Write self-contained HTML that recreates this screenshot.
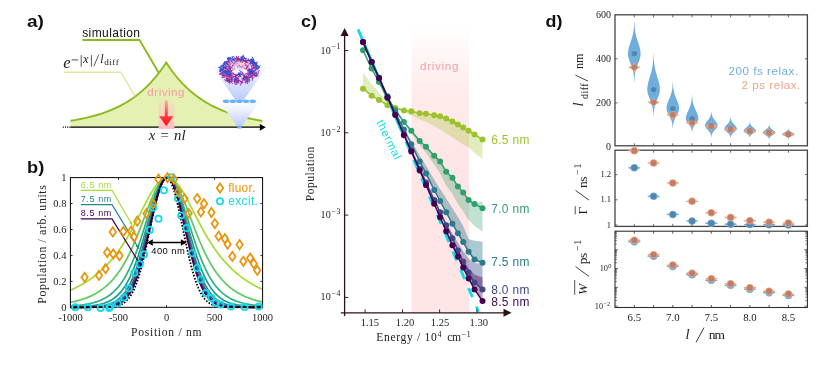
<!DOCTYPE html>
<html><head><meta charset="utf-8"><title>figure</title>
<style>html,body{margin:0;padding:0;background:#fff;}svg{display:block;will-change:transform;}text{white-space:pre;}</style>
</head><body>
<svg width="830" height="367" viewBox="0 0 830 367">
<rect width="830" height="367" fill="#fff"/>
<defs>
<linearGradient id="gPinkA" x1="0" y1="0" x2="0" y2="1"><stop offset="0" stop-color="#ffc6cc" stop-opacity="0"/><stop offset="0.4" stop-color="#ffc6cc" stop-opacity="0.55"/><stop offset="1" stop-color="#ffc2c8" stop-opacity="1"/></linearGradient>
<linearGradient id="gRedA" x1="0" y1="0" x2="0" y2="1"><stop offset="0" stop-color="#ffaaaa"/><stop offset="0.5" stop-color="#ff4848"/><stop offset="1" stop-color="#f81018"/></linearGradient>
<linearGradient id="gPinkC" x1="0" y1="0" x2="0" y2="1"><stop offset="0" stop-color="#ffe5e5" stop-opacity="0"/><stop offset="0.25" stop-color="#ffe5e5" stop-opacity="0.8"/><stop offset="0.5" stop-color="#ffe5e5" stop-opacity="1"/><stop offset="1" stop-color="#ffe5e5" stop-opacity="1"/></linearGradient>
<linearGradient id="gConeUp" x1="0" y1="0" x2="0" y2="1"><stop offset="0" stop-color="#d6dcff" stop-opacity="0.12"/><stop offset="0.5" stop-color="#ccd6ff" stop-opacity="0.75"/><stop offset="1" stop-color="#bccaff" stop-opacity="1"/></linearGradient>
<linearGradient id="gConeLo" x1="0" y1="0" x2="0" y2="1"><stop offset="0" stop-color="#fafbff" stop-opacity="0.7"/><stop offset="0.35" stop-color="#eef1ff" stop-opacity="1"/><stop offset="1" stop-color="#bccaff" stop-opacity="1"/></linearGradient>
</defs>
<g opacity="0.999">
<g id="panelA">
<text x="27" y="27.1" font-family='"Liberation Sans", sans-serif' font-weight="bold" font-size="16" fill="#111" textLength="16.9" lengthAdjust="spacingAndGlyphs">a)</text>
<path d="M70.60 127.30 L70.60 120.75 L72.75 120.41 L74.91 120.04 L77.06 119.66 L79.22 119.25 L81.37 118.83 L83.52 118.38 L85.68 117.90 L87.83 117.41 L89.99 116.88 L92.14 116.33 L94.29 115.75 L96.45 115.13 L98.60 114.49 L100.76 113.81 L102.91 113.10 L105.06 112.34 L107.22 111.55 L109.37 110.72 L111.52 109.84 L113.68 108.91 L115.83 107.94 L117.99 106.91 L120.14 105.83 L122.29 104.69 L124.45 103.49 L126.60 102.23 L128.76 100.90 L130.91 99.50 L133.06 98.03 L135.22 96.47 L137.37 94.84 L139.53 93.12 L141.68 91.31 L143.83 89.40 L145.99 87.39 L148.14 85.28 L150.30 83.05 L152.45 80.70 L154.60 78.23 L156.76 75.63 L158.91 72.89 L161.07 70.01 L163.22 66.97 L165.37 63.77 L166.20 62.50 L167.53 64.53 L169.68 67.69 L171.83 70.69 L173.99 73.54 L176.14 76.25 L178.30 78.82 L180.45 81.26 L182.60 83.58 L184.76 85.78 L186.91 87.87 L189.07 89.85 L191.22 91.74 L193.37 93.53 L195.53 95.23 L197.68 96.84 L199.84 98.38 L201.99 99.83 L204.14 101.21 L206.30 102.53 L208.45 103.77 L210.61 104.96 L212.76 106.08 L214.91 107.15 L217.07 108.17 L219.22 109.13 L221.38 110.04 L223.53 110.91 L225.68 111.74 L227.84 112.52 L229.99 113.27 L232.14 113.97 L234.30 114.64 L236.45 115.28 L238.61 115.88 L240.76 116.46 L242.91 117.01 L245.07 117.52 L247.22 118.02 L249.38 118.48 L251.53 118.93 L253.68 119.35 L255.84 119.75 L257.99 120.13 L260.15 120.49 L262.30 120.83 L262.30 127.30 Z" fill="#e4f1b2"/>
<path d="M70.60 120.75 L72.75 120.41 L74.91 120.04 L77.06 119.66 L79.22 119.25 L81.37 118.83 L83.52 118.38 L85.68 117.90 L87.83 117.41 L89.99 116.88 L92.14 116.33 L94.29 115.75 L96.45 115.13 L98.60 114.49 L100.76 113.81 L102.91 113.10 L105.06 112.34 L107.22 111.55 L109.37 110.72 L111.52 109.84 L113.68 108.91 L115.83 107.94 L117.99 106.91 L120.14 105.83 L122.29 104.69 L124.45 103.49 L126.60 102.23 L128.76 100.90 L130.91 99.50 L133.06 98.03 L135.22 96.47 L137.37 94.84 L139.53 93.12 L141.68 91.31 L143.83 89.40 L145.99 87.39 L148.14 85.28 L150.30 83.05 L152.45 80.70 L154.60 78.23 L156.76 75.63 L158.91 72.89 L161.07 70.01 L163.22 66.97 L165.37 63.77 L166.20 62.50 L167.53 64.53 L169.68 67.69 L171.83 70.69 L173.99 73.54 L176.14 76.25 L178.30 78.82 L180.45 81.26 L182.60 83.58 L184.76 85.78 L186.91 87.87 L189.07 89.85 L191.22 91.74 L193.37 93.53 L195.53 95.23 L197.68 96.84 L199.84 98.38 L201.99 99.83 L204.14 101.21 L206.30 102.53 L208.45 103.77 L210.61 104.96 L212.76 106.08 L214.91 107.15 L217.07 108.17 L219.22 109.13 L221.38 110.04 L223.53 110.91 L225.68 111.74 L227.84 112.52 L229.99 113.27 L232.14 113.97 L234.30 114.64 L236.45 115.28 L238.61 115.88 L240.76 116.46 L242.91 117.01 L245.07 117.52 L247.22 118.02 L249.38 118.48 L251.53 118.93 L253.68 119.35 L255.84 119.75 L257.99 120.13 L260.15 120.49 L262.30 120.83" fill="none" stroke="#8cb81c" stroke-width="1.85" stroke-linejoin="miter"/>
<path d="M82.5 40 L139.5 40 L158.4 72.3" fill="none" stroke="#8cb81c" stroke-width="1.85"/>
<text x="82.2" y="36.8" font-family='"Liberation Sans", sans-serif' font-size="12" fill="#111" textLength="57.8" lengthAdjust="spacing">simulation</text>
<path d="M64 72.3 L121 72.3 L135 96.3" fill="none" stroke="#dcebA4" stroke-width="1.5"/>
<text x="63.3" y="68.2" font-family='"Liberation Serif", serif' font-size="16.5" fill="#222" font-style="italic">e</text>
<line x1="71.6" y1="59.9" x2="78.1" y2="59.9" stroke="#222" stroke-width="0.8"/>
<line x1="81.2" y1="55.1" x2="81.2" y2="66.7" stroke="#222" stroke-width="0.75"/>
<text x="83.0" y="63.3" font-family='"Liberation Serif", serif' font-size="12.5" fill="#222" font-style="italic">x</text>
<line x1="91.4" y1="55.1" x2="91.4" y2="66.7" stroke="#222" stroke-width="0.75"/>
<line x1="93.9" y1="66.2" x2="98.8" y2="54.6" stroke="#222" stroke-width="0.75"/>
<text x="100.2" y="63.3" font-family='"Liberation Serif", serif' font-size="12" fill="#222" font-style="italic">l</text>
<text x="104.2" y="64.8" font-family='"Liberation Serif", serif' font-size="9.2" fill="#222" textLength="14.6" lengthAdjust="spacing">diff</text>
<line x1="70.6" y1="127.2" x2="262" y2="127.2" stroke="#000" stroke-width="1.3"/>
<line x1="62.8" y1="127.2" x2="70.6" y2="127.2" stroke="#000" stroke-width="1.3" stroke-dasharray="1.1 1.1"/>
<path d="M259.8 123.9 L265.8 127.3 L259.8 130.7 Z" fill="#000"/>
<rect x="158.6" y="97.2" width="15.8" height="31.8" fill="url(#gPinkA)"/>
<text x="147.3" y="95.6" font-family='"Liberation Sans", sans-serif' font-size="11.6" fill="#f5a0a5" textLength="37.2" lengthAdjust="spacing">driving</text>
<path d="M164.8 100.5 L167.8 100.5 L167.8 116.2 L173.3 116.2 L166.3 126.2 L159.2 116.2 L164.8 116.2 Z" fill="url(#gRedA)"/>
<text x="148.8" y="140.2" font-family='"Liberation Serif", serif' font-size="14.8" fill="#222" font-style="italic">x</text>
<text x="160.6" y="140.2" font-family='"Liberation Serif", serif' font-size="14.8" fill="#222">=</text>
<text x="174" y="140.2" font-family='"Liberation Serif", serif' font-size="14.8" fill="#222" font-style="italic">nl</text>
<path d="M212 65.9 L267.3 65.9 L243 101.2 L236 101.2 Z" fill="url(#gConeUp)"/>
<path d="M219.3 101.1 L259.5 101.1 L242 126.2 L237 126.2 Z" fill="url(#gConeLo)"/>
<ellipse cx="226.1" cy="101.3" rx="3.3" ry="1.8" fill="#66b3f6"/>
<ellipse cx="232.8" cy="101.3" rx="3.3" ry="1.8" fill="#66b3f6"/>
<ellipse cx="239.4" cy="101.3" rx="3.3" ry="1.8" fill="#66b3f6"/>
<ellipse cx="246.1" cy="101.3" rx="3.3" ry="1.8" fill="#66b3f6"/>
<ellipse cx="252.7" cy="101.3" rx="3.3" ry="1.8" fill="#66b3f6"/>
<rect x="237.4" y="125.7" width="4.3" height="2.9" rx="0.6" fill="#6ab4f8"/>
<ellipse cx="239" cy="66.6" rx="11.5" ry="5" fill="#f4dcee" opacity="0.85"/>
<path d="M237.9 80.4l-0.9 2.6M225.2 76.9l-3.3 0.7M252.8 78.5l-0.4 1.9M231.9 63.4l-3.2 1.5M253.8 65.0l1.9 0.4M255.8 68.0l1.5 1.3M229.0 66.0l-0.4 2.4M252.1 62.7l1.3 1.9M231.5 77.5l1.9 2.2M235.9 81.7l1.1 2.0M235.3 79.9l1.1 1.2M237.0 59.8l-1.1 3.3M241.3 81.2l0.8 1.4M254.3 68.1l-2.3 2.3M232.2 72.6l-2.2 1.6M248.9 80.1l0.2 1.9M230.5 73.7l1.1 2.2M228.0 80.7l1.7 0.4M248.5 70.0l1.6 1.8M250.7 59.4l0.5 2.9M225.2 71.0l1.7 2.2M229.7 68.6l1.3 1.8M226.4 63.4l-0.4 2.2M233.0 60.5l2.4 1.0M235.5 76.5l-2.2 0.2M251.8 72.0l-1.3 1.5M227.9 66.2l-1.3 1.3M249.7 60.3l-1.7 0.1M235.8 80.9l2.2 1.6M236.6 56.6l2.2 2.1M248.9 75.9l1.8 1.1M235.9 76.1l0.3 2.3M246.7 70.6l1.3 1.0M245.8 58.6l-1.6 0.0M255.2 72.9l-2.4 0.3M224.7 79.7l3.4 0.9M222.4 72.2l1.0 1.3M248.8 68.4l1.3 2.3M228.0 61.6l-2.2 0.9M236.5 58.3l1.9 1.1M230.5 76.2l0.4 2.2M234.4 58.7l2.9 1.3M234.3 62.3l-1.4 2.2M223.0 73.8l-0.3 2.4M246.6 73.7l-2.2 1.2M224.4 68.7l-2.2 1.5M238.6 56.4l-1.2 3.1M250.1 68.4l2.8 2.2" stroke="#902090" stroke-width="1" stroke-linecap="round" opacity="0.85" fill="none"/>
<path d="M223.1 65.9l-0.3 1.8M237.1 62.3l-0.5 1.9M245.2 64.7l-1.3 1.2M225.1 65.9l1.8 0.6M253.3 64.1l-1.6 1.6" stroke="#6a2898" stroke-width="1" stroke-linecap="round" opacity="0.55" fill="none"/>
<path d="M227.9 80.1l3.1 1.6M244.0 61.5l-2.2 0.6M232.2 76.2l2.3 0.1M238.8 73.2l0.9 2.2M234.9 74.7l1.3 1.2M237.7 78.8l-1.0 2.5M234.8 82.5l1.1 2.1M225.2 67.2l2.0 1.4M232.0 80.8l1.3 0.5M255.4 73.0l-2.2 2.4M224.0 72.5l-0.2 2.6M244.2 75.0l-0.6 3.5M226.6 75.4l2.9 0.6M232.4 70.1l-1.5 2.2M241.6 59.1l-3.2 0.7M225.0 68.3l1.5 2.8M249.6 69.2l-3.3 0.6M249.9 71.2l2.8 1.3M226.5 68.7l0.3 2.5M245.1 78.0l1.9 0.7M221.9 70.4l-2.1 1.1M249.2 70.8l-0.6 1.4M254.2 71.6l-0.5 3.3M255.7 70.3l-1.7 0.7M251.3 72.7l0.7 3.1M254.8 75.1l1.5 1.7M230.2 68.6l-1.8 1.1M226.8 68.0l0.8 1.7M237.8 76.0l1.3 0.7M243.8 75.4l2.4 2.4M227.0 79.6l-1.9 1.2M237.0 80.4l2.2 1.6M237.8 59.7l0.2 2.2M253.0 73.3l2.0 2.6M223.9 74.9l2.2 0.6M243.5 60.5l3.1 0.1M234.2 80.9l0.7 1.7M249.6 79.3l-2.9 1.3M256.0 73.1l-2.1 0.6M236.2 56.1l1.1 2.3M252.5 62.3l-3.1 1.8M252.6 68.6l-2.8 0.5M246.8 76.3l1.1 1.2M236.8 78.9l-1.6 1.7M236.9 58.0l-1.5 0.6M230.8 65.7l0.2 2.5M230.4 76.2l-2.6 0.3M225.3 73.2l1.0 1.6M251.7 72.4l-0.6 1.9M251.6 70.0l1.5 2.4M248.4 76.2l2.4 0.2M247.9 66.1l-1.8 2.0M228.7 64.1l0.5 2.5" stroke="#8a2890" stroke-width="1" stroke-linecap="round" opacity="0.85" fill="none"/>
<path d="M244.6 63.7l-2.0 1.9M234.5 64.1l-0.2 2.7M243.1 64.8l-2.3 1.1M245.0 60.6l0.4 2.2M232.0 61.9l2.8 0.1M240.2 66.7l-0.5 2.2M236.8 61.9l0.1 1.8M235.0 65.2l-2.3 0.3M226.3 64.6l-2.3 1.1M232.9 66.5l-1.8 0.8M225.5 69.2l1.7 0.4M246.6 65.9l0.4 2.6M233.9 62.0l1.5 1.5" stroke="#e8c0e0" stroke-width="1" stroke-linecap="round" opacity="0.8" fill="none"/>
<path d="M253.4 75.2l-1.6 2.7M227.3 61.1l-1.3 3.2M226.6 77.5l2.1 2.9M247.9 73.6l-1.2 1.8M236.4 81.5l2.6 1.7M251.6 77.0l-2.3 1.3M224.4 61.8l2.4 0.2M230.3 66.9l-0.7 2.0M247.7 67.5l-1.1 1.4M250.1 60.7l1.8 0.4M239.4 58.4l-1.5 2.8M229.3 78.5l-1.4 0.6M228.7 70.2l-2.0 0.9M258.4 68.5l-2.2 0.4M228.6 71.3l-3.5 0.2M254.9 67.8l-2.1 0.6M244.1 79.8l1.7 1.6M223.2 74.3l-3.4 0.0M229.5 80.4l0.4 3.3M243.0 75.5l1.2 1.9M229.8 75.9l-1.1 2.5M226.0 70.4l1.2 2.0M245.6 65.7l0.5 1.5M237.1 57.2l0.7 3.1M236.8 77.6l0.9 1.6M228.3 73.0l1.9 1.1M249.6 64.0l1.4 2.0M223.4 67.8l-0.5 1.4M253.2 67.3l2.7 1.6M249.1 63.9l-2.0 0.2M229.6 69.3l0.8 2.2M229.3 65.1l0.8 1.3M243.5 60.8l3.1 0.7M245.2 77.2l0.0 3.0M256.3 72.9l1.6 1.5M229.4 74.0l-0.3 2.0M227.4 68.9l-0.8 2.2M228.1 75.6l-1.5 0.0M223.0 74.3l1.8 1.7M253.4 71.7l-1.6 1.6M248.4 65.3l-0.4 3.1M252.4 67.0l1.3 0.9M251.8 69.0l-2.7 0.1" stroke="#9a2a9a" stroke-width="1" stroke-linecap="round" opacity="0.85" fill="none"/>
<path d="M222.6 70.8l-0.2 2.3M241.8 60.6l-1.2 0.9M228.8 58.8l-0.9 3.4M234.8 74.3l2.1 1.6M238.3 81.8l-2.5 0.1M248.8 60.5l-2.4 0.3M239.5 60.0l2.0 1.0M249.7 69.6l2.9 1.0M243.5 72.6l2.2 0.3M253.5 66.9l1.9 0.7M239.1 79.7l-2.1 1.7M248.8 70.2l-1.2 1.0M256.0 64.6l0.3 3.6M235.2 73.5l-2.8 0.4M250.6 74.0l-2.4 0.8M222.2 72.3l-0.3 3.2M224.6 71.9l1.7 1.5M234.0 72.0l-0.5 1.7M226.0 75.4l1.9 0.9M247.2 70.3l-0.4 1.5M230.1 79.9l-2.4 1.1M230.6 68.1l-1.0 2.3M244.4 78.1l-2.4 0.6M241.2 82.7l-0.6 2.5M227.4 75.0l-0.6 2.5M226.5 81.2l3.2 0.9M244.6 61.0l2.8 0.0M253.4 62.5l1.9 0.4M223.0 71.0l0.9 2.5M230.7 67.5l2.0 0.5M256.1 73.2l-2.4 1.2M232.9 58.9l1.0 1.1M251.5 71.9l1.2 3.2M252.8 75.2l-1.8 2.2M244.7 75.6l0.9 2.8M228.4 71.2l2.0 2.1M234.0 78.1l3.2 0.7M249.2 73.7l-0.4 1.9M253.4 77.2l-1.2 1.3M236.1 77.6l1.5 1.6M226.9 72.5l-1.8 1.1M252.4 65.0l2.4 2.5M231.8 63.0l-2.6 1.3M230.8 79.2l-3.3 1.0M242.9 60.0l-1.9 0.3M238.0 59.6l3.3 0.2M236.3 81.6l2.0 0.2" stroke="#7a28a0" stroke-width="1" stroke-linecap="round" opacity="0.85" fill="none"/>
<path d="M257.1 63.2l-3.2 1.6M226.2 67.9l-0.4 1.4M234.6 74.4l2.6 0.2M230.4 72.6l-2.7 2.1M254.2 73.2l2.1 0.4M226.6 70.4l-2.0 2.3M240.5 72.4l3.2 1.3M248.3 61.9l0.5 2.0M249.6 61.1l1.9 0.7M247.2 80.8l1.6 0.1M225.3 70.5l1.1 3.3M248.5 73.8l1.1 1.0M230.5 74.0l0.6 2.7M225.6 75.2l-2.0 1.4M241.2 78.6l2.6 2.4M247.4 74.9l1.5 1.0M235.3 78.6l2.9 2.0M240.9 58.7l-1.4 1.5M238.2 81.1l-0.5 1.4M230.9 71.1l-0.3 2.4M250.0 75.7l0.8 1.4M246.5 69.8l0.1 3.0M235.2 75.7l-0.0 1.6M256.1 69.2l-1.8 1.8M242.5 58.1l0.1 1.7M243.7 76.7l-0.2 2.9M240.1 74.2l-1.3 2.8M243.0 77.0l3.1 0.7M242.9 75.1l2.4 0.6M226.3 78.0l1.7 0.6M230.8 77.4l1.7 1.6M255.2 67.0l-0.5 3.3M246.3 58.1l0.7 1.8M259.5 70.2l-1.1 1.7M242.5 80.4l-0.6 3.3M227.3 75.4l2.5 2.2M246.3 70.9l-2.0 1.6M242.8 82.1l-1.9 0.4M251.0 64.8l0.8 1.5M235.9 60.9l-1.3 2.7" stroke="#b838b0" stroke-width="1" stroke-linecap="round" opacity="0.85" fill="none"/>
<path d="M232.0 61.4l-0.4 1.6M247.8 62.8l0.3 2.8M230.1 62.4l1.5 1.8M232.2 65.8l1.0 1.9M249.6 64.3l1.1 0.9M227.2 68.2l-1.8 0.6M238.2 64.6l0.7 2.1M233.2 64.3l-0.9 1.2M250.0 64.4l-0.4 1.7M244.5 62.0l1.4 2.4" stroke="#d8a8d8" stroke-width="1" stroke-linecap="round" opacity="0.8" fill="none"/>
<path d="M243.6 67.8l3.2 0.6M237.2 65.7l0.7 2.1" stroke="#902090" stroke-width="1" stroke-linecap="round" opacity="0.55" fill="none"/>
<path d="M246.6 63.9l3.0 0.4M246.0 62.8l-1.4 0.6M239.0 62.1l-3.2 0.7M233.0 62.5l0.1 1.8M239.2 63.3l-1.6 0.7M231.5 61.9l-0.6 2.3M234.3 65.1l2.1 0.2" stroke="#d8b0e0" stroke-width="1" stroke-linecap="round" opacity="0.8" fill="none"/>
<path d="M222.4 75.6l2.6 0.7M226.7 65.7l1.8 1.1M226.6 61.3l2.6 0.9M238.9 80.3l2.5 1.6M220.5 71.3l2.1 1.5M234.9 73.1l0.5 1.7M228.0 70.2l0.6 2.0M256.2 73.4l-0.4 1.3M239.0 78.0l-2.8 2.0M252.5 67.9l1.7 0.2M220.0 67.7l1.1 1.4M233.5 74.8l-2.2 0.4M245.5 71.2l0.2 2.3M230.4 81.3l2.4 2.3M240.7 81.2l1.4 1.7M233.5 58.3l0.3 1.8M229.6 61.5l-0.1 3.5M237.3 77.3l1.6 1.4M243.0 71.8l-1.1 2.9M244.8 72.9l3.4 0.6M232.1 75.7l-1.8 1.4M230.0 68.4l-1.8 2.7M226.2 72.9l2.5 2.2M257.3 73.7l-0.5 2.4M225.1 61.5l-0.4 2.3M247.7 69.7l-0.9 2.3M257.0 62.7l-1.5 1.6M232.0 72.9l-0.7 2.4M247.7 77.4l1.9 0.2M245.1 71.6l2.7 0.6M230.1 61.1l-0.8 2.6M230.4 71.2l0.2 1.6M250.2 62.6l3.0 1.6M247.5 60.5l-2.5 0.5M244.3 77.5l-1.1 1.0M231.1 79.6l1.4 1.0" stroke="#a828a8" stroke-width="1" stroke-linecap="round" opacity="0.85" fill="none"/>
<path d="M249.9 72.7l2.0 2.1M232.6 79.3l-1.2 2.4M251.2 74.2l2.4 0.3M227.1 76.5l-0.3 2.9M229.9 69.9l1.0 1.9M229.8 70.4l1.8 3.1M253.1 61.7l-1.4 1.6M252.9 70.5l-2.1 2.9M247.8 77.9l-1.8 1.6M252.4 70.6l2.3 0.1M252.4 71.8l-2.4 0.4M251.8 74.2l-2.9 2.2M225.6 65.7l-0.6 2.7M234.0 56.6l1.4 2.6M234.6 83.7l2.3 0.9M237.0 77.8l-2.5 0.6M251.1 66.7l1.7 2.8M248.7 64.8l-1.7 1.6M231.1 60.0l-0.1 3.5M246.4 76.4l2.1 0.0M220.8 70.4l2.8 0.8M246.6 81.5l-2.5 0.9M228.6 75.4l-2.0 1.2M223.7 72.3l-1.2 1.7M220.5 70.7l2.6 0.1M255.3 76.6l-2.6 1.1M229.4 62.1l-2.3 1.4M258.1 75.8l-1.9 0.2M225.6 76.5l-1.4 0.8M229.4 72.8l0.9 1.3M248.6 72.5l1.9 1.2M234.4 73.5l1.3 1.2M250.6 64.9l0.8 1.5M247.2 80.0l2.3 1.1M254.5 71.1l1.3 1.3M234.9 59.0l1.1 1.5M247.3 77.3l-0.3 2.7M231.5 80.7l-0.7 2.0M243.3 74.4l1.1 2.5M230.0 75.9l0.2 2.0M248.3 70.2l1.6 0.5M230.4 73.5l1.8 0.4M234.2 58.7l-2.7 1.8M258.0 70.2l0.5 3.5" stroke="#c048b8" stroke-width="1" stroke-linecap="round" opacity="0.85" fill="none"/>
<path d="M240.4 61.6l-1.8 3.0M243.4 67.3l-2.1 0.4M250.7 63.6l-0.2 2.2M233.3 61.3l2.2 0.1M247.8 64.3l-2.5 0.9M239.8 66.7l2.1 2.0M230.3 64.3l0.8 2.8" stroke="#e0b8e8" stroke-width="1" stroke-linecap="round" opacity="0.8" fill="none"/>
<path d="M231.4 62.9l-2.8 0.5M234.4 63.3l1.1 1.3M236.8 64.7l1.8 1.5M233.3 65.7l1.3 1.0M232.0 64.1l1.0 1.0M245.5 68.6l-1.1 1.2M242.5 64.5l-2.1 2.4M245.8 62.5l-0.8 1.4M249.0 65.0l1.0 1.2" stroke="#f0c8e0" stroke-width="1" stroke-linecap="round" opacity="0.8" fill="none"/>
<path d="M246.7 61.1l-2.0 2.8M238.9 63.9l1.0 2.3M246.4 65.3l1.9 1.9M233.0 69.3l1.6 0.0M233.5 64.8l-1.7 2.1M243.5 67.1l2.2 2.0" stroke="#8a2890" stroke-width="1" stroke-linecap="round" opacity="0.55" fill="none"/>
<path d="M233.0 65.3l1.7 2.7M235.0 65.0l-1.8 1.4M245.2 64.2l1.4 2.5M244.8 62.1l2.5 1.0" stroke="#b838b0" stroke-width="1" stroke-linecap="round" opacity="0.55" fill="none"/>
<path d="M249.8 72.9l3.0 0.3M244.5 76.4l3.0 1.2M221.3 73.0l-1.2 1.2M249.1 74.1l2.2 1.2M249.8 71.4l0.1 1.9M247.3 79.2l-0.5 2.5M227.1 57.9l1.9 2.7M233.8 76.9l-1.7 0.8M234.2 59.5l1.3 2.4M245.7 76.1l-2.2 2.5M247.2 80.5l0.6 3.3M248.2 58.5l0.3 2.0M229.8 66.5l0.1 1.9M257.1 66.9l-0.6 2.5M249.7 60.5l0.8 3.5M250.1 59.8l0.7 2.0M246.8 76.3l1.7 3.2M220.7 68.3l-0.4 3.3M235.6 75.1l0.1 2.6M239.8 76.0l1.4 0.5M245.9 81.1l-0.1 2.2M251.2 70.8l2.5 0.5M230.1 81.4l-1.6 0.8M226.1 78.8l2.6 0.1M250.6 70.0l2.9 1.0M228.7 59.5l0.0 2.6M238.6 73.2l-0.7 1.2M238.3 80.2l3.0 1.4M235.7 80.4l-1.7 0.5M229.5 74.5l-1.5 0.3M226.5 68.3l-3.2 0.3M256.7 75.4l-1.6 0.3M248.7 62.2l-2.6 0.2M255.8 65.8l2.1 1.6M250.3 63.1l1.6 0.3M225.6 67.4l-1.9 0.0M245.8 76.8l1.5 1.1M233.0 65.0l-0.6 1.3M256.8 75.0l-2.2 0.4" stroke="#6a2898" stroke-width="1" stroke-linecap="round" opacity="0.85" fill="none"/>
<path d="M245.0 65.1l2.1 0.2M239.0 65.7l2.9 1.6" stroke="#9a2a9a" stroke-width="1" stroke-linecap="round" opacity="0.55" fill="none"/>
<path d="M234.3 63.1l0.5 1.4" stroke="#7a28a0" stroke-width="1" stroke-linecap="round" opacity="0.55" fill="none"/>
<path d="M243.4 64.4l2.4 2.2M249.1 66.2l-1.6 3.1M232.8 66.7l2.0 2.7M233.5 66.1l-0.3 1.7M234.7 64.4l-0.4 2.7M229.8 63.7l0.3 1.5M246.0 66.5l-2.7 0.8M238.5 64.3l3.5 0.8M248.6 62.0l-1.0 2.5M250.7 68.1l-1.5 2.2M237.8 62.5l1.8 0.4" stroke="#f0d0e8" stroke-width="1" stroke-linecap="round" opacity="0.8" fill="none"/>
<path d="M242.8 65.3l-0.7 1.5M247.7 66.1l-1.7 2.2" stroke="#a828a8" stroke-width="1" stroke-linecap="round" opacity="0.55" fill="none"/>
<path d="M228.0 69.9l-0.6 1.4" stroke="#c048b8" stroke-width="1" stroke-linecap="round" opacity="0.55" fill="none"/>
<path d="M229.6 57.5l2.3 1.3M230.5 57.9l-0.6 2.0M227.9 57.9l2.2 1.7M240.8 57.2l1.9 0.6M243.2 55.2l-0.7 2.2M243.7 56.5l1.2 1.8M241.6 57.8l0.6 2.4M241.8 57.7l-1.9 0.6M251.4 61.5l1.7 0.2M254.1 60.4l-0.6 1.9M250.4 61.0l2.5 1.3M223.2 67.8l-2.3 1.5M219.8 70.0l3.0 0.3M222.0 65.1l-0.1 1.3M258.5 65.9l0.7 1.0M257.3 65.3l-2.0 0.1M228.3 70.4l0.5 2.7M226.7 73.0l0.7 1.9M249.5 69.5l-0.3 1.6M252.1 70.5l1.5 1.1M253.3 72.8l-2.4 1.0M225.9 62.2l-1.3 0.7M225.4 62.9l-1.6 0.4M226.9 62.7l0.9 0.9M254.7 62.8l-1.1 1.3M226.0 73.3l-2.3 1.9M245.2 79.1l-1.9 0.4" stroke="#2040c8" stroke-width="1" stroke-linecap="round" opacity="0.9" fill="none"/>
<path d="M230.0 58.1l0.1 1.6M231.5 58.2l1.1 1.5M233.5 56.5l-1.5 1.0M232.1 56.8l0.5 1.1M244.0 58.1l1.7 1.7M251.8 62.1l1.2 0.8M251.0 59.1l-0.9 1.6M252.7 60.0l-2.5 1.2M223.0 66.9l1.8 1.0M223.3 65.6l-0.2 1.4M258.6 66.1l0.5 1.1M258.8 66.8l-2.7 0.6M260.4 65.5l-2.1 2.1M254.3 67.5l1.5 0.2M227.7 71.5l0.3 2.8M238.2 72.9l0.8 1.9M240.2 74.1l1.5 0.2M250.3 72.7l0.5 2.7M252.5 70.8l-2.4 1.2M250.5 73.4l1.3 0.9M254.5 63.2l1.3 0.1M254.6 62.2l1.0 1.2M252.3 60.9l1.0 2.2M257.8 68.8l-2.3 1.4M257.2 68.8l-1.9 0.9M253.1 70.5l0.7 1.1M256.6 71.9l-0.1 1.4M235.4 78.6l-1.0 1.7M234.5 79.3l1.9 0.3M249.6 78.6l-1.1 1.3M247.1 79.5l0.2 2.6" stroke="#3a68e8" stroke-width="1" stroke-linecap="round" opacity="0.9" fill="none"/>
<path d="M231.3 59.9l1.1 2.7M232.6 56.9l-0.7 1.7M243.8 56.7l0.2 2.1M253.5 59.4l-2.8 0.9M222.4 69.3l-2.6 1.0M220.9 65.4l0.3 2.5M254.5 66.0l2.0 0.9M259.3 67.3l-0.8 1.4M257.1 64.3l-1.1 0.9M226.9 72.8l0.8 1.8M229.3 72.7l-1.2 1.5M231.2 71.2l-2.4 0.4M238.7 73.1l-1.2 2.7M240.8 73.9l1.1 0.9M239.8 70.8l1.7 1.0M239.7 73.9l0.2 1.5M250.9 71.2l-0.7 1.1M226.0 62.7l-2.0 0.4M224.8 64.5l-2.2 0.5M223.3 63.3l1.3 1.4M224.4 64.4l-1.5 1.0M257.1 62.1l-2.5 1.1M255.3 62.6l-1.0 1.3M222.0 72.7l-2.3 0.6M224.1 70.5l1.2 0.2M234.5 80.0l1.3 1.6M231.7 78.7l-0.4 2.8M246.9 80.0l1.1 1.1M248.3 77.5l-2.5 1.4" stroke="#2a50dc" stroke-width="1" stroke-linecap="round" opacity="0.9" fill="none"/>
<path d="M234.1 59.3l-2.8 1.1M230.2 59.3l-2.9 0.5M245.5 59.6l-1.1 0.6M241.7 57.8l-1.6 2.2M243.2 55.7l-1.2 1.5M252.4 58.1l-0.9 1.6M220.2 69.4l1.7 1.4M222.8 69.0l0.7 1.0M219.1 67.7l2.6 0.5M255.5 63.9l2.2 2.0M254.8 66.7l-0.5 1.3M231.5 71.0l-2.2 1.1M225.7 72.2l2.8 0.5M230.1 73.0l-1.8 1.7M239.9 73.7l-2.1 1.3M251.9 71.3l-1.3 0.9M251.7 70.7l-2.0 0.1M223.4 63.2l0.1 2.4M225.1 65.9l-1.8 0.6M224.7 61.8l0.8 2.5M228.3 64.1l-2.0 1.2M253.4 63.2l-0.0 2.6M256.1 64.7l-0.8 1.1M251.9 62.0l2.6 0.3M224.1 69.9l0.0 2.4M255.0 70.9l-0.5 1.7M254.8 70.8l-1.4 1.6M248.1 79.1l2.0 1.1" stroke="#3060e8" stroke-width="1" stroke-linecap="round" opacity="0.9" fill="none"/>
<path d="M228.5 57.3l0.9 1.3M232.8 59.6l1.3 0.7M243.4 59.2l0.5 1.7M241.8 58.7l1.3 1.7M241.7 56.7l1.1 0.6M252.0 59.7l1.8 1.5M253.0 60.0l0.4 1.2M252.5 60.8l0.4 1.8M251.3 59.6l2.5 1.5M252.4 57.1l1.1 2.3M220.7 69.2l-0.9 1.8M223.4 65.7l-0.2 2.1M221.2 66.8l-2.4 0.6M257.6 65.4l-1.1 1.5M258.7 66.9l-0.0 1.3M226.8 71.4l0.0 1.3M226.5 73.5l1.8 1.0M230.5 73.9l-0.6 1.3M230.9 73.4l-1.2 2.5M238.1 72.1l2.1 1.7M238.1 73.8l1.8 0.7M243.4 72.1l-1.1 0.8M239.2 75.0l1.3 1.8M240.1 73.6l-0.0 1.2M237.3 74.6l2.6 0.2M251.2 71.8l2.3 0.9M248.6 70.5l2.6 0.9M249.6 72.2l0.3 1.8M251.0 70.8l-0.5 2.6M224.8 66.5l1.4 0.1M226.9 63.3l0.7 1.5M256.0 63.2l-0.1 1.6M254.0 62.1l-1.2 2.4M254.5 62.4l-2.2 1.5M254.4 65.0l-2.3 0.3M225.7 70.3l-1.3 2.6M225.8 70.4l-2.3 1.3M232.0 77.6l-0.8 2.7M234.7 79.3l1.5 0.4" stroke="#2848d0" stroke-width="1" stroke-linecap="round" opacity="0.9" fill="none"/>
<path d="M253.7 72.2l1.0 0.4M241.6 62.3l1.0 0.4M229.7 63.9l1.0 0.4M249.2 74.6l1.0 0.4M252.8 65.3l1.0 0.4M223.2 73.8l1.0 0.4" stroke="#e04060" stroke-width="1" stroke-linecap="round" opacity="0.9" fill="none"/>
<path d="M239.7 61.4l1.0 0.4M229.0 77.2l1.0 0.4M225.2 70.6l1.0 0.4M244.3 60.8l1.0 0.4M246.9 78.1l1.0 0.4" stroke="#c82848" stroke-width="1" stroke-linecap="round" opacity="0.9" fill="none"/>
<path d="M228.4 76.7l1.0 0.4M226.1 69.9l1.0 0.4M255.0 66.2l1.0 0.4M246.4 79.1l1.0 0.4M226.6 67.5l1.0 0.4" stroke="#d03050" stroke-width="1" stroke-linecap="round" opacity="0.9" fill="none"/>
<ellipse cx="236" cy="72" rx="2.6" ry="2.1" fill="#fff" opacity="0.9"/>
<ellipse cx="245" cy="71.6" rx="2.6" ry="2.1" fill="#fff" opacity="0.9"/>
</g>
<g id="panelB">
<text x="27.1" y="172.6" font-family='"Liberation Sans", sans-serif' font-weight="bold" font-size="16" fill="#111" textLength="17.2" lengthAdjust="spacingAndGlyphs">b)</text>
<clipPath id="clipB"><rect x="70.4" y="171.6" width="192.20000000000002" height="137.70000000000002"/></clipPath>
<g clip-path="url(#clipB)">
<path d="M70.40 290.18 L71.36 289.77 L72.32 289.35 L73.28 288.91 L74.24 288.47 L75.21 288.02 L76.17 287.55 L77.13 287.08 L78.09 286.59 L79.05 286.09 L80.01 285.58 L80.97 285.05 L81.93 284.52 L82.89 283.97 L83.85 283.41 L84.82 282.83 L85.78 282.24 L86.74 281.64 L87.70 281.02 L88.66 280.39 L89.62 279.74 L90.58 279.07 L91.54 278.39 L92.50 277.70 L93.46 276.98 L94.43 276.25 L95.39 275.51 L96.35 274.74 L97.31 273.96 L98.27 273.15 L99.23 272.33 L100.19 271.49 L101.15 270.62 L102.11 269.74 L103.07 268.84 L104.03 267.91 L105.00 266.96 L105.96 265.99 L106.92 265.00 L107.88 263.98 L108.84 262.93 L109.80 261.87 L110.76 260.77 L111.72 259.65 L112.68 258.51 L113.65 257.34 L114.61 256.14 L115.57 254.91 L116.53 253.65 L117.49 252.37 L118.45 251.06 L119.41 249.71 L120.37 248.34 L121.33 246.93 L122.29 245.50 L123.26 244.03 L124.22 242.54 L125.18 241.01 L126.14 239.45 L127.10 237.86 L128.06 236.25 L129.02 234.60 L129.98 232.92 L130.94 231.22 L131.90 229.49 L132.87 227.73 L133.83 225.95 L134.79 224.15 L135.75 222.32 L136.71 220.48 L137.67 218.62 L138.63 216.75 L139.59 214.87 L140.55 212.99 L141.51 211.10 L142.48 209.21 L143.44 207.33 L144.40 205.45 L145.36 203.59 L146.32 201.76 L147.28 199.94 L148.24 198.16 L149.20 196.41 L150.16 194.71 L151.12 193.05 L152.09 191.45 L153.05 189.91 L154.01 188.43 L154.97 187.03 L155.93 185.70 L156.89 184.46 L157.85 183.31 L158.81 182.25 L159.77 181.29 L160.73 180.43 L161.69 179.68 L162.66 179.04 L163.62 178.52 L164.58 178.11 L165.54 177.82 L166.50 177.65 L167.46 177.60 L168.42 177.67 L169.38 177.87 L170.34 178.18 L171.31 178.61 L172.27 179.16 L173.23 179.82 L174.19 180.59 L175.15 181.47 L176.11 182.45 L177.07 183.53 L178.03 184.70 L178.99 185.96 L179.95 187.30 L180.92 188.72 L181.88 190.21 L182.84 191.77 L183.80 193.38 L184.76 195.05 L185.72 196.76 L186.68 198.51 L187.64 200.30 L188.60 202.12 L189.56 203.96 L190.53 205.83 L191.49 207.70 L192.45 209.59 L193.41 211.47 L194.37 213.36 L195.33 215.25 L196.29 217.13 L197.25 219.00 L198.21 220.85 L199.17 222.69 L200.14 224.51 L201.10 226.31 L202.06 228.08 L203.02 229.84 L203.98 231.56 L204.94 233.26 L205.90 234.93 L206.86 236.57 L207.82 238.18 L208.78 239.77 L209.75 241.32 L210.71 242.84 L211.67 244.33 L212.63 245.79 L213.59 247.22 L214.55 248.61 L215.51 249.98 L216.47 251.32 L217.43 252.63 L218.39 253.91 L219.36 255.16 L220.32 256.38 L221.28 257.57 L222.24 258.74 L223.20 259.88 L224.16 260.99 L225.12 262.08 L226.08 263.14 L227.04 264.18 L228.00 265.20 L228.97 266.19 L229.93 267.15 L230.89 268.10 L231.85 269.02 L232.81 269.92 L233.77 270.80 L234.73 271.66 L235.69 272.50 L236.65 273.31 L237.61 274.11 L238.58 274.89 L239.54 275.66 L240.50 276.40 L241.46 277.13 L242.42 277.84 L243.38 278.53 L244.34 279.21 L245.30 279.87 L246.26 280.51 L247.22 281.15 L248.19 281.76 L249.15 282.36 L250.11 282.95 L251.07 283.52 L252.03 284.08 L252.99 284.63 L253.95 285.16 L254.91 285.68 L255.87 286.19 L256.83 286.69 L257.80 287.17 L258.76 287.65 L259.72 288.11 L260.68 288.56 L261.64 289.00 L262.60 289.43" fill="none" stroke="#a5db36" stroke-width="1.7"/>
<path d="M70.40 302.39 L71.36 302.19 L72.32 301.99 L73.28 301.78 L74.24 301.55 L75.21 301.32 L76.17 301.09 L77.13 300.84 L78.09 300.58 L79.05 300.31 L80.01 300.03 L80.97 299.74 L81.93 299.44 L82.89 299.12 L83.85 298.80 L84.82 298.46 L85.78 298.10 L86.74 297.73 L87.70 297.35 L88.66 296.95 L89.62 296.54 L90.58 296.11 L91.54 295.66 L92.50 295.20 L93.46 294.71 L94.43 294.21 L95.39 293.69 L96.35 293.14 L97.31 292.57 L98.27 291.99 L99.23 291.37 L100.19 290.74 L101.15 290.07 L102.11 289.39 L103.07 288.67 L104.03 287.93 L105.00 287.15 L105.96 286.35 L106.92 285.51 L107.88 284.64 L108.84 283.74 L109.80 282.80 L110.76 281.82 L111.72 280.80 L112.68 279.75 L113.65 278.65 L114.61 277.52 L115.57 276.34 L116.53 275.11 L117.49 273.84 L118.45 272.51 L119.41 271.14 L120.37 269.72 L121.33 268.25 L122.29 266.73 L123.26 265.15 L124.22 263.51 L125.18 261.82 L126.14 260.07 L127.10 258.27 L128.06 256.41 L129.02 254.49 L129.98 252.52 L130.94 250.49 L131.90 248.40 L132.87 246.26 L133.83 244.06 L134.79 241.81 L135.75 239.52 L136.71 237.18 L137.67 234.79 L138.63 232.37 L139.59 229.91 L140.55 227.43 L141.51 224.91 L142.48 222.38 L143.44 219.84 L144.40 217.29 L145.36 214.75 L146.32 212.22 L147.28 209.70 L148.24 207.21 L149.20 204.76 L150.16 202.36 L151.12 200.01 L152.09 197.73 L153.05 195.52 L154.01 193.40 L154.97 191.38 L155.93 189.46 L156.89 187.66 L157.85 185.98 L158.81 184.43 L159.77 183.02 L160.73 181.77 L161.69 180.67 L162.66 179.73 L163.62 178.95 L164.58 178.35 L165.54 177.92 L166.50 177.67 L167.46 177.60 L168.42 177.71 L169.38 177.99 L170.34 178.46 L171.31 179.09 L172.27 179.90 L173.23 180.87 L174.19 182.01 L175.15 183.29 L176.11 184.73 L177.07 186.30 L178.03 188.01 L178.99 189.83 L179.95 191.78 L180.92 193.82 L181.88 195.96 L182.84 198.18 L183.80 200.48 L184.76 202.84 L185.72 205.25 L186.68 207.71 L187.64 210.20 L188.60 212.72 L189.56 215.26 L190.53 217.80 L191.49 220.35 L192.45 222.89 L193.41 225.42 L194.37 227.93 L195.33 230.41 L196.29 232.86 L197.25 235.27 L198.21 237.65 L199.17 239.98 L200.14 242.27 L201.10 244.50 L202.06 246.69 L203.02 248.82 L203.98 250.90 L204.94 252.92 L205.90 254.88 L206.86 256.79 L207.82 258.64 L208.78 260.43 L209.75 262.16 L210.71 263.84 L211.67 265.47 L212.63 267.03 L213.59 268.55 L214.55 270.01 L215.51 271.42 L216.47 272.78 L217.43 274.09 L218.39 275.36 L219.36 276.58 L220.32 277.75 L221.28 278.88 L222.24 279.96 L223.20 281.01 L224.16 282.02 L225.12 282.99 L226.08 283.92 L227.04 284.82 L228.00 285.68 L228.97 286.51 L229.93 287.31 L230.89 288.08 L231.85 288.82 L232.81 289.53 L233.77 290.21 L234.73 290.87 L235.69 291.50 L236.65 292.11 L237.61 292.69 L238.58 293.25 L239.54 293.79 L240.50 294.31 L241.46 294.81 L242.42 295.29 L243.38 295.75 L244.34 296.20 L245.30 296.62 L246.26 297.03 L247.22 297.43 L248.19 297.81 L249.15 298.17 L250.11 298.52 L251.07 298.86 L252.03 299.19 L252.99 299.50 L253.95 299.80 L254.91 300.09 L255.87 300.36 L256.83 300.63 L257.80 300.89 L258.76 301.13 L259.72 301.37 L260.68 301.60 L261.64 301.82 L262.60 302.03" fill="none" stroke="#5ec962" stroke-width="1.7"/>
<path d="M70.40 306.16 L71.36 306.09 L72.32 306.02 L73.28 305.95 L74.24 305.86 L75.21 305.78 L76.17 305.69 L77.13 305.59 L78.09 305.49 L79.05 305.38 L80.01 305.26 L80.97 305.14 L81.93 305.01 L82.89 304.88 L83.85 304.73 L84.82 304.58 L85.78 304.42 L86.74 304.24 L87.70 304.06 L88.66 303.87 L89.62 303.66 L90.58 303.44 L91.54 303.21 L92.50 302.97 L93.46 302.71 L94.43 302.43 L95.39 302.14 L96.35 301.83 L97.31 301.51 L98.27 301.16 L99.23 300.79 L100.19 300.40 L101.15 299.99 L102.11 299.55 L103.07 299.09 L104.03 298.60 L105.00 298.08 L105.96 297.53 L106.92 296.95 L107.88 296.33 L108.84 295.68 L109.80 294.99 L110.76 294.26 L111.72 293.48 L112.68 292.66 L113.65 291.80 L114.61 290.88 L115.57 289.92 L116.53 288.89 L117.49 287.82 L118.45 286.68 L119.41 285.48 L120.37 284.22 L121.33 282.88 L122.29 281.48 L123.26 280.01 L124.22 278.46 L125.18 276.83 L126.14 275.13 L127.10 273.34 L128.06 271.48 L129.02 269.53 L129.98 267.49 L130.94 265.37 L131.90 263.16 L132.87 260.87 L133.83 258.49 L134.79 256.03 L135.75 253.49 L136.71 250.86 L137.67 248.17 L138.63 245.40 L139.59 242.57 L140.55 239.68 L141.51 236.73 L142.48 233.74 L143.44 230.71 L144.40 227.65 L145.36 224.57 L146.32 221.48 L147.28 218.40 L148.24 215.33 L149.20 212.29 L150.16 209.29 L151.12 206.35 L152.09 203.48 L153.05 200.69 L154.01 197.99 L154.97 195.41 L155.93 192.95 L156.89 190.64 L157.85 188.47 L158.81 186.48 L159.77 184.66 L160.73 183.03 L161.69 181.60 L162.66 180.37 L163.62 179.36 L164.58 178.58 L165.54 178.02 L166.50 177.69 L167.46 177.60 L168.42 177.74 L169.38 178.11 L170.34 178.72 L171.31 179.55 L172.27 180.60 L173.23 181.87 L174.19 183.34 L175.15 185.01 L176.11 186.86 L177.07 188.89 L178.03 191.09 L178.99 193.43 L179.95 195.92 L180.92 198.52 L181.88 201.24 L182.84 204.05 L183.80 206.93 L184.76 209.89 L185.72 212.90 L186.68 215.94 L187.64 219.02 L188.60 222.10 L189.56 225.19 L190.53 228.26 L191.49 231.32 L192.45 234.34 L193.41 237.32 L194.37 240.26 L195.33 243.14 L196.29 245.96 L197.25 248.71 L198.21 251.40 L199.17 254.00 L200.14 256.53 L201.10 258.97 L202.06 261.33 L203.02 263.61 L203.98 265.80 L204.94 267.90 L205.90 269.92 L206.86 271.86 L207.82 273.71 L208.78 275.48 L209.75 277.17 L210.71 278.78 L211.67 280.31 L212.63 281.77 L213.59 283.16 L214.55 284.47 L215.51 285.72 L216.47 286.91 L217.43 288.04 L218.39 289.10 L219.36 290.11 L220.32 291.07 L221.28 291.97 L222.24 292.83 L223.20 293.64 L224.16 294.41 L225.12 295.13 L226.08 295.81 L227.04 296.46 L228.00 297.07 L228.97 297.64 L229.93 298.19 L230.89 298.70 L231.85 299.19 L232.81 299.64 L233.77 300.07 L234.73 300.48 L235.69 300.87 L236.65 301.23 L237.61 301.57 L238.58 301.90 L239.54 302.20 L240.50 302.49 L241.46 302.76 L242.42 303.02 L243.38 303.26 L244.34 303.49 L245.30 303.70 L246.26 303.91 L247.22 304.10 L248.19 304.28 L249.15 304.45 L250.11 304.61 L251.07 304.76 L252.03 304.91 L252.99 305.04 L253.95 305.17 L254.91 305.29 L255.87 305.40 L256.83 305.51 L257.80 305.61 L258.76 305.71 L259.72 305.80 L260.68 305.88 L261.64 305.96 L262.60 306.04" fill="none" stroke="#2db27d" stroke-width="1.7"/>
<path d="M70.40 307.03 L71.36 307.01 L72.32 306.99 L73.28 306.96 L74.24 306.94 L75.21 306.91 L76.17 306.88 L77.13 306.84 L78.09 306.80 L79.05 306.76 L80.01 306.72 L80.97 306.67 L81.93 306.62 L82.89 306.57 L83.85 306.51 L84.82 306.44 L85.78 306.37 L86.74 306.30 L87.70 306.22 L88.66 306.13 L89.62 306.03 L90.58 305.93 L91.54 305.82 L92.50 305.70 L93.46 305.57 L94.43 305.43 L95.39 305.28 L96.35 305.11 L97.31 304.93 L98.27 304.74 L99.23 304.53 L100.19 304.31 L101.15 304.07 L102.11 303.81 L103.07 303.52 L104.03 303.22 L105.00 302.89 L105.96 302.53 L106.92 302.15 L107.88 301.74 L108.84 301.29 L109.80 300.81 L110.76 300.29 L111.72 299.73 L112.68 299.13 L113.65 298.48 L114.61 297.78 L115.57 297.03 L116.53 296.23 L117.49 295.36 L118.45 294.44 L119.41 293.44 L120.37 292.38 L121.33 291.24 L122.29 290.02 L123.26 288.73 L124.22 287.34 L125.18 285.87 L126.14 284.31 L127.10 282.65 L128.06 280.89 L129.02 279.03 L129.98 277.06 L130.94 274.99 L131.90 272.81 L132.87 270.52 L133.83 268.12 L134.79 265.61 L135.75 262.99 L136.71 260.27 L137.67 257.44 L138.63 254.52 L139.59 251.50 L140.55 248.39 L141.51 245.20 L142.48 241.94 L143.44 238.62 L144.40 235.24 L145.36 231.82 L146.32 228.37 L147.28 224.90 L148.24 221.43 L149.20 217.98 L150.16 214.56 L151.12 211.19 L152.09 207.88 L153.05 204.66 L154.01 201.54 L154.97 198.54 L155.93 195.67 L156.89 192.97 L157.85 190.43 L158.81 188.09 L159.77 185.94 L160.73 184.02 L161.69 182.33 L162.66 180.88 L163.62 179.69 L164.58 178.76 L165.54 178.10 L166.50 177.71 L167.46 177.60 L168.42 177.77 L169.38 178.21 L170.34 178.93 L171.31 179.91 L172.27 181.15 L173.23 182.65 L174.19 184.39 L175.15 186.36 L176.11 188.54 L177.07 190.92 L178.03 193.50 L178.99 196.24 L179.95 199.13 L180.92 202.15 L181.88 205.30 L182.84 208.54 L183.80 211.86 L184.76 215.24 L185.72 218.67 L186.68 222.13 L187.64 225.59 L188.60 229.06 L189.56 232.50 L190.53 235.92 L191.49 239.29 L192.45 242.60 L193.41 245.85 L194.37 249.02 L195.33 252.11 L196.29 255.11 L197.25 258.02 L198.21 260.82 L199.17 263.52 L200.14 266.12 L201.10 268.61 L202.06 270.98 L203.02 273.25 L203.98 275.41 L204.94 277.46 L205.90 279.41 L206.86 281.25 L207.82 282.99 L208.78 284.63 L209.75 286.17 L210.71 287.63 L211.67 288.99 L212.63 290.27 L213.59 291.47 L214.55 292.60 L215.51 293.65 L216.47 294.63 L217.43 295.54 L218.39 296.39 L219.36 297.19 L220.32 297.93 L221.28 298.61 L222.24 299.25 L223.20 299.84 L224.16 300.40 L225.12 300.91 L226.08 301.38 L227.04 301.82 L228.00 302.23 L228.97 302.61 L229.93 302.96 L230.89 303.28 L231.85 303.58 L232.81 303.86 L233.77 304.12 L234.73 304.36 L235.69 304.58 L236.65 304.78 L237.61 304.97 L238.58 305.15 L239.54 305.31 L240.50 305.46 L241.46 305.59 L242.42 305.72 L243.38 305.84 L244.34 305.95 L245.30 306.05 L246.26 306.15 L247.22 306.23 L248.19 306.31 L249.15 306.39 L250.11 306.46 L251.07 306.52 L252.03 306.58 L252.99 306.63 L253.95 306.68 L254.91 306.73 L255.87 306.77 L256.83 306.81 L257.80 306.85 L258.76 306.88 L259.72 306.91 L260.68 306.94 L261.64 306.97 L262.60 306.99" fill="none" stroke="#1f9a8a" stroke-width="1.7"/>
<path d="M70.40 307.25 L71.36 307.24 L72.32 307.24 L73.28 307.23 L74.24 307.22 L75.21 307.21 L76.17 307.20 L77.13 307.19 L78.09 307.18 L79.05 307.17 L80.01 307.15 L80.97 307.14 L81.93 307.12 L82.89 307.10 L83.85 307.08 L84.82 307.06 L85.78 307.03 L86.74 307.00 L87.70 306.97 L88.66 306.93 L89.62 306.89 L90.58 306.85 L91.54 306.80 L92.50 306.75 L93.46 306.69 L94.43 306.62 L95.39 306.55 L96.35 306.47 L97.31 306.38 L98.27 306.28 L99.23 306.17 L100.19 306.05 L101.15 305.92 L102.11 305.78 L103.07 305.61 L104.03 305.44 L105.00 305.24 L105.96 305.02 L106.92 304.78 L107.88 304.52 L108.84 304.23 L109.80 303.91 L110.76 303.55 L111.72 303.17 L112.68 302.74 L113.65 302.27 L114.61 301.76 L115.57 301.20 L116.53 300.59 L117.49 299.92 L118.45 299.19 L119.41 298.39 L120.37 297.53 L121.33 296.59 L122.29 295.56 L123.26 294.46 L124.22 293.26 L125.18 291.97 L126.14 290.58 L127.10 289.08 L128.06 287.47 L129.02 285.75 L129.98 283.91 L130.94 281.95 L131.90 279.86 L132.87 277.65 L133.83 275.30 L134.79 272.83 L135.75 270.22 L136.71 267.49 L137.67 264.63 L138.63 261.64 L139.59 258.53 L140.55 255.31 L141.51 251.98 L142.48 248.55 L143.44 245.03 L144.40 241.43 L145.36 237.76 L146.32 234.05 L147.28 230.30 L148.24 226.53 L149.20 222.76 L150.16 219.00 L151.12 215.29 L152.09 211.63 L153.05 208.06 L154.01 204.58 L154.97 201.23 L155.93 198.02 L156.89 194.98 L157.85 192.13 L158.81 189.49 L159.77 187.07 L160.73 184.89 L161.69 182.97 L162.66 181.33 L163.62 179.98 L164.58 178.92 L165.54 178.17 L166.50 177.73 L167.46 177.60 L168.42 177.79 L169.38 178.29 L170.34 179.11 L171.31 180.23 L172.27 181.64 L173.23 183.34 L174.19 185.31 L175.15 187.53 L176.11 190.00 L177.07 192.69 L178.03 195.58 L178.99 198.65 L179.95 201.89 L180.92 205.27 L181.88 208.77 L182.84 212.36 L183.80 216.03 L184.76 219.75 L185.72 223.51 L186.68 227.28 L187.64 231.05 L188.60 234.80 L189.56 238.50 L190.53 242.15 L191.49 245.74 L192.45 249.24 L193.41 252.65 L194.37 255.96 L195.33 259.16 L196.29 262.25 L197.25 265.21 L198.21 268.05 L199.17 270.76 L200.14 273.33 L201.10 275.78 L202.06 278.10 L203.02 280.29 L203.98 282.35 L204.94 284.29 L205.90 286.10 L206.86 287.80 L207.82 289.39 L208.78 290.86 L209.75 292.24 L210.71 293.51 L211.67 294.69 L212.63 295.78 L213.59 296.78 L214.55 297.71 L215.51 298.56 L216.47 299.34 L217.43 300.06 L218.39 300.72 L219.36 301.32 L220.32 301.87 L221.28 302.37 L222.24 302.83 L223.20 303.25 L224.16 303.63 L225.12 303.97 L226.08 304.29 L227.04 304.57 L228.00 304.83 L228.97 305.07 L229.93 305.28 L230.89 305.47 L231.85 305.65 L232.81 305.81 L233.77 305.95 L234.73 306.08 L235.69 306.20 L236.65 306.30 L237.61 306.40 L238.58 306.49 L239.54 306.57 L240.50 306.64 L241.46 306.70 L242.42 306.76 L243.38 306.81 L244.34 306.86 L245.30 306.90 L246.26 306.94 L247.22 306.97 L248.19 307.01 L249.15 307.03 L250.11 307.06 L251.07 307.08 L252.03 307.10 L252.99 307.12 L253.95 307.14 L254.91 307.16 L255.87 307.17 L256.83 307.18 L257.80 307.19 L258.76 307.20 L259.72 307.21 L260.68 307.22 L261.64 307.23 L262.60 307.24" fill="none" stroke="#25838e" stroke-width="1.7"/>
<path d="M70.40 307.29 L71.36 307.29 L72.32 307.28 L73.28 307.28 L74.24 307.28 L75.21 307.28 L76.17 307.27 L77.13 307.27 L78.09 307.27 L79.05 307.26 L80.01 307.26 L80.97 307.25 L81.93 307.24 L82.89 307.23 L83.85 307.23 L84.82 307.22 L85.78 307.21 L86.74 307.19 L87.70 307.18 L88.66 307.16 L89.62 307.14 L90.58 307.12 L91.54 307.10 L92.50 307.07 L93.46 307.04 L94.43 307.01 L95.39 306.97 L96.35 306.93 L97.31 306.88 L98.27 306.82 L99.23 306.76 L100.19 306.69 L101.15 306.61 L102.11 306.52 L103.07 306.42 L104.03 306.30 L105.00 306.18 L105.96 306.03 L106.92 305.87 L107.88 305.69 L108.84 305.49 L109.80 305.26 L110.76 305.00 L111.72 304.72 L112.68 304.40 L113.65 304.04 L114.61 303.65 L115.57 303.21 L116.53 302.72 L117.49 302.18 L118.45 301.58 L119.41 300.91 L120.37 300.19 L121.33 299.38 L122.29 298.50 L123.26 297.53 L124.22 296.48 L125.18 295.32 L126.14 294.07 L127.10 292.70 L128.06 291.22 L129.02 289.62 L129.98 287.89 L130.94 286.04 L131.90 284.05 L132.87 281.92 L133.83 279.65 L134.79 277.23 L135.75 274.67 L136.71 271.97 L137.67 269.12 L138.63 266.12 L139.59 262.99 L140.55 259.73 L141.51 256.33 L142.48 252.82 L143.44 249.20 L144.40 245.49 L145.36 241.69 L146.32 237.82 L147.28 233.89 L148.24 229.94 L149.20 225.97 L150.16 222.01 L151.12 218.07 L152.09 214.19 L153.05 210.38 L154.01 206.67 L154.97 203.08 L155.93 199.64 L156.89 196.38 L157.85 193.31 L158.81 190.46 L159.77 187.85 L160.73 185.50 L161.69 183.42 L162.66 181.65 L163.62 180.18 L164.58 179.03 L165.54 178.22 L166.50 177.74 L167.46 177.60 L168.42 177.81 L169.38 178.35 L170.34 179.24 L171.31 180.45 L172.27 181.98 L173.23 183.82 L174.19 185.94 L175.15 188.35 L176.11 191.01 L177.07 193.91 L178.03 197.02 L178.99 200.32 L179.95 203.79 L180.92 207.40 L181.88 211.13 L182.84 214.96 L183.80 218.85 L184.76 222.80 L185.72 226.76 L186.68 230.73 L187.64 234.68 L188.60 238.60 L189.56 242.45 L190.53 246.24 L191.49 249.94 L192.45 253.53 L193.41 257.02 L194.37 260.39 L195.33 263.63 L196.29 266.73 L197.25 269.70 L198.21 272.52 L199.17 275.20 L200.14 277.73 L201.10 280.11 L202.06 282.35 L203.02 284.46 L203.98 286.42 L204.94 288.25 L205.90 289.95 L206.86 291.52 L207.82 292.98 L208.78 294.32 L209.75 295.56 L210.71 296.70 L211.67 297.73 L212.63 298.68 L213.59 299.55 L214.55 300.34 L215.51 301.05 L216.47 301.70 L217.43 302.29 L218.39 302.82 L219.36 303.30 L220.32 303.73 L221.28 304.12 L222.24 304.46 L223.20 304.78 L224.16 305.05 L225.12 305.30 L226.08 305.53 L227.04 305.73 L228.00 305.90 L228.97 306.06 L229.93 306.20 L230.89 306.33 L231.85 306.44 L232.81 306.54 L233.77 306.63 L234.73 306.70 L235.69 306.77 L236.65 306.83 L237.61 306.89 L238.58 306.94 L239.54 306.98 L240.50 307.02 L241.46 307.05 L242.42 307.08 L243.38 307.10 L244.34 307.13 L245.30 307.15 L246.26 307.17 L247.22 307.18 L248.19 307.20 L249.15 307.21 L250.11 307.22 L251.07 307.23 L252.03 307.24 L252.99 307.24 L253.95 307.25 L254.91 307.26 L255.87 307.26 L256.83 307.27 L257.80 307.27 L258.76 307.27 L259.72 307.28 L260.68 307.28 L261.64 307.28 L262.60 307.28" fill="none" stroke="#2e6c8e" stroke-width="1.7"/>
<path d="M70.40 307.30 L71.36 307.30 L72.32 307.29 L73.28 307.29 L74.24 307.29 L75.21 307.29 L76.17 307.29 L77.13 307.29 L78.09 307.29 L79.05 307.29 L80.01 307.28 L80.97 307.28 L81.93 307.28 L82.89 307.27 L83.85 307.27 L84.82 307.27 L85.78 307.26 L86.74 307.25 L87.70 307.25 L88.66 307.24 L89.62 307.23 L90.58 307.22 L91.54 307.21 L92.50 307.19 L93.46 307.17 L94.43 307.15 L95.39 307.13 L96.35 307.11 L97.31 307.08 L98.27 307.04 L99.23 307.00 L100.19 306.95 L101.15 306.90 L102.11 306.84 L103.07 306.77 L104.03 306.69 L105.00 306.60 L105.96 306.50 L106.92 306.38 L107.88 306.25 L108.84 306.09 L109.80 305.92 L110.76 305.72 L111.72 305.50 L112.68 305.24 L113.65 304.96 L114.61 304.63 L115.57 304.27 L116.53 303.86 L117.49 303.41 L118.45 302.89 L119.41 302.32 L120.37 301.69 L121.33 300.98 L122.29 300.20 L123.26 299.33 L124.22 298.37 L125.18 297.32 L126.14 296.16 L127.10 294.90 L128.06 293.51 L129.02 292.01 L129.98 290.37 L130.94 288.61 L131.90 286.70 L132.87 284.64 L133.83 282.44 L134.79 280.08 L135.75 277.57 L136.71 274.90 L137.67 272.08 L138.63 269.10 L139.59 265.97 L140.55 262.69 L141.51 259.28 L142.48 255.72 L143.44 252.05 L144.40 248.27 L145.36 244.38 L146.32 240.42 L147.28 236.39 L148.24 232.31 L149.20 228.21 L150.16 224.11 L151.12 220.03 L152.09 215.99 L153.05 212.02 L154.01 208.15 L154.97 204.40 L155.93 200.80 L156.89 197.37 L157.85 194.15 L158.81 191.15 L159.77 188.41 L160.73 185.93 L161.69 183.75 L162.66 181.87 L163.62 180.32 L164.58 179.11 L165.54 178.25 L166.50 177.75 L167.46 177.60 L168.42 177.82 L169.38 178.40 L170.34 179.33 L171.31 180.61 L172.27 182.22 L173.23 184.16 L174.19 186.40 L175.15 188.94 L176.11 191.73 L177.07 194.78 L178.03 198.04 L178.99 201.51 L179.95 205.14 L180.92 208.91 L181.88 212.81 L182.84 216.79 L183.80 220.84 L184.76 224.93 L185.72 229.04 L186.68 233.13 L187.64 237.20 L188.60 241.22 L189.56 245.17 L190.53 249.03 L191.49 252.80 L192.45 256.45 L193.41 259.97 L194.37 263.36 L195.33 266.61 L196.29 269.71 L197.25 272.65 L198.21 275.45 L199.17 278.08 L200.14 280.56 L201.10 282.89 L202.06 285.06 L203.02 287.09 L203.98 288.97 L204.94 290.71 L205.90 292.32 L206.86 293.80 L207.82 295.16 L208.78 296.40 L209.75 297.54 L210.71 298.57 L211.67 299.51 L212.63 300.36 L213.59 301.13 L214.55 301.82 L215.51 302.44 L216.47 303.00 L217.43 303.50 L218.39 303.95 L219.36 304.35 L220.32 304.70 L221.28 305.02 L222.24 305.30 L223.20 305.54 L224.16 305.76 L225.12 305.96 L226.08 306.13 L227.04 306.27 L228.00 306.41 L228.97 306.52 L229.93 306.62 L230.89 306.71 L231.85 306.79 L232.81 306.85 L233.77 306.91 L234.73 306.96 L235.69 307.01 L236.65 307.05 L237.61 307.08 L238.58 307.11 L239.54 307.14 L240.50 307.16 L241.46 307.18 L242.42 307.19 L243.38 307.21 L244.34 307.22 L245.30 307.23 L246.26 307.24 L247.22 307.25 L248.19 307.26 L249.15 307.26 L250.11 307.27 L251.07 307.27 L252.03 307.28 L252.99 307.28 L253.95 307.28 L254.91 307.28 L255.87 307.29 L256.83 307.29 L257.80 307.29 L258.76 307.29 L259.72 307.29 L260.68 307.29 L261.64 307.29 L262.60 307.30" fill="none" stroke="#3b528b" stroke-width="1.7"/>
<path d="M70.40 307.30 L71.36 307.30 L72.32 307.30 L73.28 307.30 L74.24 307.30 L75.21 307.30 L76.17 307.30 L77.13 307.30 L78.09 307.29 L79.05 307.29 L80.01 307.29 L80.97 307.29 L81.93 307.29 L82.89 307.29 L83.85 307.29 L84.82 307.28 L85.78 307.28 L86.74 307.28 L87.70 307.27 L88.66 307.27 L89.62 307.26 L90.58 307.25 L91.54 307.25 L92.50 307.24 L93.46 307.23 L94.43 307.21 L95.39 307.20 L96.35 307.18 L97.31 307.16 L98.27 307.13 L99.23 307.11 L100.19 307.07 L101.15 307.03 L102.11 306.99 L103.07 306.94 L104.03 306.88 L105.00 306.81 L105.96 306.73 L106.92 306.63 L107.88 306.52 L108.84 306.40 L109.80 306.26 L110.76 306.09 L111.72 305.90 L112.68 305.69 L113.65 305.45 L114.61 305.17 L115.57 304.85 L116.53 304.49 L117.49 304.09 L118.45 303.63 L119.41 303.12 L120.37 302.54 L121.33 301.90 L122.29 301.18 L123.26 300.38 L124.22 299.49 L125.18 298.51 L126.14 297.42 L127.10 296.22 L128.06 294.91 L129.02 293.47 L129.98 291.91 L130.94 290.20 L131.90 288.35 L132.87 286.35 L133.83 284.20 L134.79 281.89 L135.75 279.42 L136.71 276.79 L137.67 273.99 L138.63 271.03 L139.59 267.91 L140.55 264.63 L141.51 261.21 L142.48 257.64 L143.44 253.94 L144.40 250.11 L145.36 246.18 L146.32 242.16 L147.28 238.06 L148.24 233.91 L149.20 229.73 L150.16 225.53 L151.12 221.35 L152.09 217.21 L153.05 213.14 L154.01 209.16 L154.97 205.30 L155.93 201.59 L156.89 198.06 L157.85 194.73 L158.81 191.63 L159.77 188.79 L160.73 186.23 L161.69 183.97 L162.66 182.03 L163.62 180.42 L164.58 179.17 L165.54 178.28 L166.50 177.75 L167.46 177.60 L168.42 177.83 L169.38 178.43 L170.34 179.39 L171.31 180.72 L172.27 182.39 L173.23 184.40 L174.19 186.72 L175.15 189.34 L176.11 192.23 L177.07 195.38 L178.03 198.75 L178.99 202.32 L179.95 206.06 L180.92 209.94 L181.88 213.95 L182.84 218.04 L183.80 222.19 L184.76 226.37 L185.72 230.57 L186.68 234.75 L187.64 238.89 L188.60 242.97 L189.56 246.98 L190.53 250.89 L191.49 254.69 L192.45 258.36 L193.41 261.90 L194.37 265.30 L195.33 268.55 L196.29 271.63 L197.25 274.56 L198.21 277.33 L199.17 279.93 L200.14 282.37 L201.10 284.64 L202.06 286.76 L203.02 288.73 L203.98 290.55 L204.94 292.23 L205.90 293.77 L206.86 295.18 L207.82 296.47 L208.78 297.65 L209.75 298.71 L210.71 299.68 L211.67 300.55 L212.63 301.33 L213.59 302.03 L214.55 302.66 L215.51 303.23 L216.47 303.73 L217.43 304.17 L218.39 304.57 L219.36 304.92 L220.32 305.23 L221.28 305.50 L222.24 305.73 L223.20 305.94 L224.16 306.13 L225.12 306.29 L226.08 306.43 L227.04 306.55 L228.00 306.65 L228.97 306.74 L229.93 306.82 L230.89 306.89 L231.85 306.95 L232.81 307.00 L233.77 307.04 L234.73 307.08 L235.69 307.11 L236.65 307.14 L237.61 307.16 L238.58 307.18 L239.54 307.20 L240.50 307.22 L241.46 307.23 L242.42 307.24 L243.38 307.25 L244.34 307.26 L245.30 307.26 L246.26 307.27 L247.22 307.27 L248.19 307.28 L249.15 307.28 L250.11 307.28 L251.07 307.29 L252.03 307.29 L252.99 307.29 L253.95 307.29 L254.91 307.29 L255.87 307.29 L256.83 307.29 L257.80 307.30 L258.76 307.30 L259.72 307.30 L260.68 307.30 L261.64 307.30 L262.60 307.30" fill="none" stroke="#472d7b" stroke-width="1.7"/>
<path d="M70.40 307.30 L71.36 307.30 L72.32 307.30 L73.28 307.30 L74.24 307.30 L75.21 307.30 L76.17 307.30 L77.13 307.30 L78.09 307.30 L79.05 307.30 L80.01 307.30 L80.97 307.30 L81.93 307.29 L82.89 307.29 L83.85 307.29 L84.82 307.29 L85.78 307.29 L86.74 307.29 L87.70 307.28 L88.66 307.28 L89.62 307.28 L90.58 307.27 L91.54 307.27 L92.50 307.26 L93.46 307.25 L94.43 307.24 L95.39 307.23 L96.35 307.22 L97.31 307.20 L98.27 307.18 L99.23 307.16 L100.19 307.14 L101.15 307.11 L102.11 307.07 L103.07 307.03 L104.03 306.98 L105.00 306.92 L105.96 306.86 L106.92 306.78 L107.88 306.69 L108.84 306.58 L109.80 306.46 L110.76 306.32 L111.72 306.15 L112.68 305.96 L113.65 305.75 L114.61 305.50 L115.57 305.22 L116.53 304.89 L117.49 304.53 L118.45 304.11 L119.41 303.64 L120.37 303.11 L121.33 302.51 L122.29 301.84 L123.26 301.08 L124.22 300.24 L125.18 299.31 L126.14 298.28 L127.10 297.13 L128.06 295.87 L129.02 294.49 L129.98 292.97 L130.94 291.31 L131.90 289.51 L132.87 287.56 L133.83 285.45 L134.79 283.18 L135.75 280.74 L136.71 278.14 L137.67 275.37 L138.63 272.43 L139.59 269.32 L140.55 266.05 L141.51 262.62 L142.48 259.04 L143.44 255.32 L144.40 251.47 L145.36 247.51 L146.32 243.45 L147.28 239.31 L148.24 235.10 L149.20 230.86 L150.16 226.60 L151.12 222.35 L152.09 218.13 L153.05 213.98 L154.01 209.92 L154.97 205.98 L155.93 202.19 L156.89 198.57 L157.85 195.17 L158.81 192.00 L159.77 189.09 L160.73 186.46 L161.69 184.14 L162.66 182.15 L163.62 180.50 L164.58 179.21 L165.54 178.29 L166.50 177.76 L167.46 177.60 L168.42 177.83 L169.38 178.45 L170.34 179.44 L171.31 180.80 L172.27 182.52 L173.23 184.58 L174.19 186.96 L175.15 189.65 L176.11 192.61 L177.07 195.83 L178.03 199.28 L178.99 202.93 L179.95 206.75 L180.92 210.72 L181.88 214.80 L182.84 218.97 L183.80 223.19 L184.76 227.45 L185.72 231.71 L186.68 235.95 L187.64 240.14 L188.60 244.27 L189.56 248.31 L190.53 252.25 L191.49 256.08 L192.45 259.77 L193.41 263.32 L194.37 266.71 L195.33 269.95 L196.29 273.03 L197.25 275.93 L198.21 278.67 L199.17 281.24 L200.14 283.65 L201.10 285.89 L202.06 287.96 L203.02 289.89 L203.98 291.66 L204.94 293.28 L205.90 294.77 L206.86 296.13 L207.82 297.37 L208.78 298.49 L209.75 299.51 L210.71 300.42 L211.67 301.24 L212.63 301.98 L213.59 302.63 L214.55 303.22 L215.51 303.74 L216.47 304.20 L217.43 304.60 L218.39 304.96 L219.36 305.28 L220.32 305.55 L221.28 305.79 L222.24 306.00 L223.20 306.19 L224.16 306.35 L225.12 306.48 L226.08 306.60 L227.04 306.71 L228.00 306.79 L228.97 306.87 L229.93 306.93 L230.89 306.99 L231.85 307.04 L232.81 307.08 L233.77 307.11 L234.73 307.14 L235.69 307.17 L236.65 307.19 L237.61 307.21 L238.58 307.22 L239.54 307.23 L240.50 307.24 L241.46 307.25 L242.42 307.26 L243.38 307.27 L244.34 307.27 L245.30 307.28 L246.26 307.28 L247.22 307.28 L248.19 307.29 L249.15 307.29 L250.11 307.29 L251.07 307.29 L252.03 307.29 L252.99 307.29 L253.95 307.30 L254.91 307.30 L255.87 307.30 L256.83 307.30 L257.80 307.30 L258.76 307.30 L259.72 307.30 L260.68 307.30 L261.64 307.30 L262.60 307.30" fill="none" stroke="#440154" stroke-width="1.7"/>
<path d="M70.40 307.30 L70.88 307.30 L71.36 307.30 L71.84 307.30 L72.32 307.30 L72.80 307.30 L73.28 307.30 L73.76 307.30 L74.24 307.30 L74.72 307.30 L75.21 307.30 L75.69 307.30 L76.17 307.30 L76.65 307.30 L77.13 307.30 L77.61 307.30 L78.09 307.30 L78.57 307.30 L79.05 307.30 L79.53 307.30 L80.01 307.30 L80.49 307.30 L80.97 307.30 L81.45 307.30 L81.93 307.30 L82.41 307.30 L82.89 307.30 L83.37 307.30 L83.85 307.30 L84.33 307.30 L84.82 307.30 L85.30 307.30 L85.78 307.30 L86.26 307.30 L86.74 307.30 L87.22 307.30 L87.70 307.30 L88.18 307.30 L88.66 307.30 L89.14 307.30 L89.62 307.30 L90.10 307.30 L90.58 307.30 L91.06 307.30 L91.54 307.30 L92.02 307.30 L92.50 307.30 L92.98 307.29 L93.46 307.29 L93.94 307.29 L94.43 307.29 L94.91 307.29 L95.39 307.29 L95.87 307.29 L96.35 307.29 L96.83 307.29 L97.31 307.28 L97.79 307.28 L98.27 307.28 L98.75 307.28 L99.23 307.27 L99.71 307.27 L100.19 307.27 L100.67 307.26 L101.15 307.26 L101.63 307.25 L102.11 307.25 L102.59 307.24 L103.07 307.23 L103.55 307.22 L104.03 307.21 L104.52 307.20 L105.00 307.19 L105.48 307.18 L105.96 307.16 L106.44 307.15 L106.92 307.13 L107.40 307.11 L107.88 307.09 L108.36 307.07 L108.84 307.04 L109.32 307.02 L109.80 306.99 L110.28 306.95 L110.76 306.92 L111.24 306.87 L111.72 306.83 L112.20 306.78 L112.68 306.73 L113.16 306.67 L113.65 306.61 L114.13 306.54 L114.61 306.46 L115.09 306.38 L115.57 306.29 L116.05 306.20 L116.53 306.09 L117.01 305.98 L117.49 305.86 L117.97 305.73 L118.45 305.58 L118.93 305.43 L119.41 305.26 L119.89 305.08 L120.37 304.89 L120.85 304.68 L121.33 304.46 L121.81 304.22 L122.29 303.97 L122.77 303.69 L123.26 303.40 L123.74 303.08 L124.22 302.75 L124.70 302.39 L125.18 302.01 L125.66 301.60 L126.14 301.17 L126.62 300.71 L127.10 300.22 L127.58 299.71 L128.06 299.16 L128.54 298.58 L129.02 297.97 L129.50 297.32 L129.98 296.64 L130.46 295.92 L130.94 295.16 L131.42 294.36 L131.90 293.52 L132.38 292.64 L132.87 291.72 L133.35 290.76 L133.83 289.75 L134.31 288.69 L134.79 287.59 L135.27 286.44 L135.75 285.24 L136.23 284.00 L136.71 282.70 L137.19 281.36 L137.67 279.97 L138.15 278.52 L138.63 277.03 L139.11 275.48 L139.59 273.89 L140.07 272.25 L140.55 270.56 L141.03 268.82 L141.51 267.03 L141.99 265.19 L142.48 263.31 L142.96 261.39 L143.44 259.42 L143.92 257.41 L144.40 255.36 L144.88 253.28 L145.36 251.16 L145.84 249.01 L146.32 246.82 L146.80 244.61 L147.28 242.38 L147.76 240.12 L148.24 237.85 L148.72 235.56 L149.20 233.26 L149.68 230.95 L150.16 228.63 L150.64 226.32 L151.12 224.01 L151.60 221.71 L152.09 219.42 L152.57 217.15 L153.05 214.90 L153.53 212.68 L154.01 210.48 L154.49 208.32 L154.97 206.20 L155.45 204.13 L155.93 202.10 L156.41 200.12 L156.89 198.21 L157.37 196.35 L157.85 194.56 L158.33 192.84 L158.81 191.19 L159.29 189.63 L159.77 188.14 L160.25 186.74 L160.73 185.43 L161.21 184.21 L161.69 183.09 L162.18 182.07 L162.66 181.14 L163.14 180.32 L163.62 179.60 L164.10 178.99 L164.58 178.49 L165.06 178.10 L165.54 177.82 L166.02 177.66 L166.50 177.60 L166.98 177.66 L167.46 177.82 L167.94 178.10 L168.42 178.49 L168.90 178.99 L169.38 179.60 L169.86 180.32 L170.34 181.14 L170.82 182.07 L171.31 183.09 L171.79 184.21 L172.27 185.43 L172.75 186.74 L173.23 188.14 L173.71 189.63 L174.19 191.19 L174.67 192.84 L175.15 194.56 L175.63 196.35 L176.11 198.21 L176.59 200.12 L177.07 202.10 L177.55 204.13 L178.03 206.20 L178.51 208.32 L178.99 210.48 L179.47 212.68 L179.95 214.90 L180.43 217.15 L180.92 219.42 L181.40 221.71 L181.88 224.01 L182.36 226.32 L182.84 228.63 L183.32 230.95 L183.80 233.26 L184.28 235.56 L184.76 237.85 L185.24 240.12 L185.72 242.38 L186.20 244.61 L186.68 246.82 L187.16 249.01 L187.64 251.16 L188.12 253.28 L188.60 255.36 L189.08 257.41 L189.56 259.42 L190.04 261.39 L190.53 263.31 L191.01 265.19 L191.49 267.03 L191.97 268.82 L192.45 270.56 L192.93 272.25 L193.41 273.89 L193.89 275.48 L194.37 277.03 L194.85 278.52 L195.33 279.97 L195.81 281.36 L196.29 282.70 L196.77 284.00 L197.25 285.24 L197.73 286.44 L198.21 287.59 L198.69 288.69 L199.17 289.75 L199.65 290.76 L200.14 291.72 L200.62 292.64 L201.10 293.52 L201.58 294.36 L202.06 295.16 L202.54 295.92 L203.02 296.64 L203.50 297.32 L203.98 297.97 L204.46 298.58 L204.94 299.16 L205.42 299.71 L205.90 300.22 L206.38 300.71 L206.86 301.17 L207.34 301.60 L207.82 302.01 L208.30 302.39 L208.78 302.75 L209.26 303.08 L209.75 303.40 L210.23 303.69 L210.71 303.97 L211.19 304.22 L211.67 304.46 L212.15 304.68 L212.63 304.89 L213.11 305.08 L213.59 305.26 L214.07 305.43 L214.55 305.58 L215.03 305.73 L215.51 305.86 L215.99 305.98 L216.47 306.09 L216.95 306.20 L217.43 306.29 L217.91 306.38 L218.39 306.46 L218.87 306.54 L219.36 306.61 L219.84 306.67 L220.32 306.73 L220.80 306.78 L221.28 306.83 L221.76 306.87 L222.24 306.92 L222.72 306.95 L223.20 306.99 L223.68 307.02 L224.16 307.04 L224.64 307.07 L225.12 307.09 L225.60 307.11 L226.08 307.13 L226.56 307.15 L227.04 307.16 L227.52 307.18 L228.00 307.19 L228.48 307.20 L228.97 307.21 L229.45 307.22 L229.93 307.23 L230.41 307.24 L230.89 307.25 L231.37 307.25 L231.85 307.26 L232.33 307.26 L232.81 307.27 L233.29 307.27 L233.77 307.27 L234.25 307.28 L234.73 307.28 L235.21 307.28 L235.69 307.28 L236.17 307.29 L236.65 307.29 L237.13 307.29 L237.61 307.29 L238.09 307.29 L238.58 307.29 L239.06 307.29 L239.54 307.29 L240.02 307.29 L240.50 307.30 L240.98 307.30 L241.46 307.30 L241.94 307.30 L242.42 307.30 L242.90 307.30 L243.38 307.30 L243.86 307.30 L244.34 307.30 L244.82 307.30 L245.30 307.30 L245.78 307.30 L246.26 307.30 L246.74 307.30 L247.22 307.30 L247.70 307.30 L248.19 307.30 L248.67 307.30 L249.15 307.30 L249.63 307.30 L250.11 307.30 L250.59 307.30 L251.07 307.30 L251.55 307.30 L252.03 307.30 L252.51 307.30 L252.99 307.30 L253.47 307.30 L253.95 307.30 L254.43 307.30 L254.91 307.30 L255.39 307.30 L255.87 307.30 L256.35 307.30 L256.83 307.30 L257.31 307.30 L257.80 307.30 L258.28 307.30 L258.76 307.30 L259.24 307.30 L259.72 307.30 L260.20 307.30 L260.68 307.30 L261.16 307.30 L261.64 307.30 L262.12 307.30 L262.60 307.30" fill="none" stroke="#000" stroke-width="1.8" stroke-dasharray="1.6 1.6"/>
</g>
<rect x="70.4" y="177.6" width="192.20000000000002" height="129.70000000000002" fill="none" stroke="#000" stroke-width="1"/>
<line x1="118.5" y1="307.3" x2="118.5" y2="305.1" stroke="#000" stroke-width="0.8"/>
<line x1="118.5" y1="177.6" x2="118.5" y2="179.79999999999998" stroke="#000" stroke-width="0.8"/>
<line x1="166.5" y1="307.3" x2="166.5" y2="305.1" stroke="#000" stroke-width="0.8"/>
<line x1="166.5" y1="177.6" x2="166.5" y2="179.79999999999998" stroke="#000" stroke-width="0.8"/>
<line x1="214.6" y1="307.3" x2="214.6" y2="305.1" stroke="#000" stroke-width="0.8"/>
<line x1="214.6" y1="177.6" x2="214.6" y2="179.79999999999998" stroke="#000" stroke-width="0.8"/>
<line x1="70.4" y1="281.4" x2="72.60000000000001" y2="281.4" stroke="#000" stroke-width="0.8"/>
<line x1="262.6" y1="281.4" x2="260.40000000000003" y2="281.4" stroke="#000" stroke-width="0.8"/>
<line x1="70.4" y1="255.4" x2="72.60000000000001" y2="255.4" stroke="#000" stroke-width="0.8"/>
<line x1="262.6" y1="255.4" x2="260.40000000000003" y2="255.4" stroke="#000" stroke-width="0.8"/>
<line x1="70.4" y1="229.5" x2="72.60000000000001" y2="229.5" stroke="#000" stroke-width="0.8"/>
<line x1="262.6" y1="229.5" x2="260.40000000000003" y2="229.5" stroke="#000" stroke-width="0.8"/>
<line x1="70.4" y1="203.5" x2="72.60000000000001" y2="203.5" stroke="#000" stroke-width="0.8"/>
<line x1="262.6" y1="203.5" x2="260.40000000000003" y2="203.5" stroke="#000" stroke-width="0.8"/>
<text x="66.4" y="310.6" text-anchor="end" font-family='"Liberation Serif", serif' font-size="10.5" fill="#222">0</text>
<text x="66.4" y="284.7" text-anchor="end" font-family='"Liberation Serif", serif' font-size="10.5" fill="#222">0.2</text>
<text x="66.4" y="258.7" text-anchor="end" font-family='"Liberation Serif", serif' font-size="10.5" fill="#222">0.4</text>
<text x="66.4" y="232.8" text-anchor="end" font-family='"Liberation Serif", serif' font-size="10.5" fill="#222">0.6</text>
<text x="66.4" y="206.8" text-anchor="end" font-family='"Liberation Serif", serif' font-size="10.5" fill="#222">0.8</text>
<text x="66.4" y="180.9" text-anchor="end" font-family='"Liberation Serif", serif' font-size="10.5" fill="#222">1</text>
<text x="70.4" y="321.4" text-anchor="middle" font-family='"Liberation Serif", serif' font-size="10.5" fill="#222">-1000</text>
<text x="118.5" y="321.4" text-anchor="middle" font-family='"Liberation Serif", serif' font-size="10.5" fill="#222">-500</text>
<text x="166.5" y="321.4" text-anchor="middle" font-family='"Liberation Serif", serif' font-size="10.5" fill="#222">0</text>
<text x="214.6" y="321.4" text-anchor="middle" font-family='"Liberation Serif", serif' font-size="10.5" fill="#222">500</text>
<text x="262.6" y="321.4" text-anchor="middle" font-family='"Liberation Serif", serif' font-size="10.5" fill="#222">1000</text>
<text x="131" y="336" font-family='"Liberation Serif", serif' font-size="11.6" fill="#222" textLength="70.6" lengthAdjust="spacing">Position / nm</text>
<text transform="translate(46.1,303.7) rotate(-90)" font-family='"Liberation Serif", serif' font-size="11.8" fill="#222" textLength="118.6" lengthAdjust="spacing">Population / arb. units</text>
<text x="80.7" y="187.6" font-family='"Liberation Sans", sans-serif' font-size="9" fill="#a5db36" textLength="30.6" lengthAdjust="spacing">6.5 nm</text>
<path d="M80.7 190.3 L112 190.3 L132.2 225.0" fill="none" stroke="#a5db36" stroke-width="1.2"/>
<path d="M132.60 225.69 L129.06 222.78 L131.82 221.17 Z" fill="#a5db36"/>
<text x="80.7" y="201.5" font-family='"Liberation Sans", sans-serif' font-size="9" fill="#25838e" textLength="30.6" lengthAdjust="spacing">7.5 nm</text>
<path d="M80.7 204.6 L112 204.6 L138.8 248.5" fill="none" stroke="#25838e" stroke-width="1.2"/>
<path d="M139.22 249.18 L135.61 246.35 L138.34 244.68 Z" fill="#25838e"/>
<text x="80.7" y="216.4" font-family='"Liberation Sans", sans-serif' font-size="9" fill="#440154" textLength="30.6" lengthAdjust="spacing">8.5 nm</text>
<path d="M80.7 218.9 L112 218.9 L140.2 264.5" fill="none" stroke="#440154" stroke-width="1.2"/>
<path d="M140.62 265.18 L137.00 262.36 L139.72 260.68 Z" fill="#440154"/>
<line x1="149" y1="242.5" x2="184.5" y2="242.5" stroke="#000" stroke-width="1.3"/>
<path d="M147 242.5 L152.8 239.3 L152.8 245.7 Z" fill="#000"/>
<path d="M186.7 242.5 L180.9 239.3 L180.9 245.7 Z" fill="#000"/>
<text x="151.2" y="254.4" font-family='"Liberation Sans", sans-serif' font-size="9.4" fill="#000" textLength="33.6" lengthAdjust="spacing">400 nm</text>
<circle cx="75.3" cy="307.2" r="3.1" fill="none" stroke="#17dbe8" stroke-width="1.8"/>
<circle cx="87.8" cy="307.2" r="3.1" fill="none" stroke="#17dbe8" stroke-width="1.8"/>
<circle cx="100.6" cy="307.9" r="3.1" fill="none" stroke="#17dbe8" stroke-width="1.8"/>
<circle cx="109.2" cy="307.9" r="3.1" fill="none" stroke="#17dbe8" stroke-width="1.8"/>
<circle cx="110.4" cy="306.5" r="3.1" fill="none" stroke="#17dbe8" stroke-width="1.8"/>
<circle cx="117.7" cy="303.5" r="3.1" fill="none" stroke="#17dbe8" stroke-width="1.8"/>
<circle cx="123.9" cy="297.4" r="3.1" fill="none" stroke="#17dbe8" stroke-width="1.8"/>
<circle cx="128.8" cy="288.3" r="3.1" fill="none" stroke="#17dbe8" stroke-width="1.8"/>
<circle cx="134.4" cy="272.8" r="3.1" fill="none" stroke="#17dbe8" stroke-width="1.8"/>
<circle cx="139.8" cy="264.3" r="3.1" fill="none" stroke="#17dbe8" stroke-width="1.8"/>
<circle cx="144.0" cy="254.4" r="3.1" fill="none" stroke="#17dbe8" stroke-width="1.8"/>
<circle cx="149.8" cy="230.0" r="3.1" fill="none" stroke="#17dbe8" stroke-width="1.8"/>
<circle cx="153.2" cy="207.8" r="3.1" fill="none" stroke="#17dbe8" stroke-width="1.8"/>
<circle cx="158.5" cy="218.7" r="3.1" fill="none" stroke="#17dbe8" stroke-width="1.8"/>
<circle cx="163.9" cy="190.2" r="3.1" fill="none" stroke="#17dbe8" stroke-width="1.8"/>
<circle cx="171.2" cy="177.2" r="3.1" fill="none" stroke="#17dbe8" stroke-width="1.8"/>
<circle cx="178.0" cy="198.6" r="3.1" fill="none" stroke="#17dbe8" stroke-width="1.8"/>
<circle cx="181.1" cy="215.4" r="3.1" fill="none" stroke="#17dbe8" stroke-width="1.8"/>
<circle cx="186.5" cy="228.1" r="3.1" fill="none" stroke="#17dbe8" stroke-width="1.8"/>
<circle cx="192.3" cy="253.2" r="3.1" fill="none" stroke="#17dbe8" stroke-width="1.8"/>
<circle cx="197.2" cy="267.9" r="3.1" fill="none" stroke="#17dbe8" stroke-width="1.8"/>
<circle cx="200.9" cy="279.4" r="3.1" fill="none" stroke="#17dbe8" stroke-width="1.8"/>
<circle cx="205.8" cy="293.1" r="3.1" fill="none" stroke="#17dbe8" stroke-width="1.8"/>
<circle cx="211.4" cy="297.8" r="3.1" fill="none" stroke="#17dbe8" stroke-width="1.8"/>
<circle cx="215.9" cy="302.9" r="3.1" fill="none" stroke="#17dbe8" stroke-width="1.8"/>
<circle cx="220.5" cy="304.6" r="3.1" fill="none" stroke="#17dbe8" stroke-width="1.8"/>
<circle cx="231.0" cy="306.6" r="3.1" fill="none" stroke="#17dbe8" stroke-width="1.8"/>
<circle cx="244.5" cy="307.1" r="3.1" fill="none" stroke="#17dbe8" stroke-width="1.8"/>
<circle cx="258.7" cy="306.6" r="3.1" fill="none" stroke="#17dbe8" stroke-width="1.8"/>
<path d="M84.6 272.7 L87.8 277.3 L84.6 281.9 L81.4 277.3 Z" fill="none" stroke="#e8950c" stroke-width="1.75"/>
<path d="M98.9 270.7 L102.1 275.3 L98.9 279.9 L95.7 275.3 Z" fill="none" stroke="#e8950c" stroke-width="1.75"/>
<path d="M105.5 264.1 L108.7 268.7 L105.5 273.3 L102.3 268.7 Z" fill="none" stroke="#e8950c" stroke-width="1.75"/>
<path d="M107.2 247.9 L110.4 252.5 L107.2 257.1 L104.0 252.5 Z" fill="none" stroke="#e8950c" stroke-width="1.75"/>
<path d="M113.3 249.4 L116.5 254.0 L113.3 258.6 L110.1 254.0 Z" fill="none" stroke="#e8950c" stroke-width="1.75"/>
<path d="M119.5 251.1 L122.7 255.7 L119.5 260.3 L116.3 255.7 Z" fill="none" stroke="#e8950c" stroke-width="1.75"/>
<path d="M112.8 227.3 L116.0 231.9 L112.8 236.5 L109.6 231.9 Z" fill="none" stroke="#e8950c" stroke-width="1.75"/>
<path d="M123.4 226.9 L126.6 231.5 L123.4 236.1 L120.2 231.5 Z" fill="none" stroke="#e8950c" stroke-width="1.75"/>
<path d="M131.1 226.6 L134.3 231.2 L131.1 235.8 L127.9 231.2 Z" fill="none" stroke="#e8950c" stroke-width="1.75"/>
<path d="M134.0 232.3 L137.2 236.9 L134.0 241.5 L130.8 236.9 Z" fill="none" stroke="#e8950c" stroke-width="1.75"/>
<path d="M137.2 216.6 L140.4 221.2 L137.2 225.8 L134.0 221.2 Z" fill="none" stroke="#e8950c" stroke-width="1.75"/>
<path d="M146.5 208.9 L149.7 213.5 L146.5 218.1 L143.3 213.5 Z" fill="none" stroke="#e8950c" stroke-width="1.75"/>
<path d="M153.2 199.4 L156.4 204.0 L153.2 208.6 L150.0 204.0 Z" fill="none" stroke="#e8950c" stroke-width="1.75"/>
<path d="M158.5 174.6 L161.7 179.2 L158.5 183.8 L155.3 179.2 Z" fill="none" stroke="#e8950c" stroke-width="1.75"/>
<path d="M167.5 173.0 L170.7 177.6 L167.5 182.2 L164.3 177.6 Z" fill="none" stroke="#e8950c" stroke-width="1.75"/>
<path d="M173.9 174.6 L177.1 179.2 L173.9 183.8 L170.7 179.2 Z" fill="none" stroke="#e8950c" stroke-width="1.75"/>
<path d="M178.4 186.9 L181.6 191.5 L178.4 196.1 L175.2 191.5 Z" fill="none" stroke="#e8950c" stroke-width="1.75"/>
<path d="M184.5 194.0 L187.7 198.6 L184.5 203.2 L181.3 198.6 Z" fill="none" stroke="#e8950c" stroke-width="1.75"/>
<path d="M197.2 194.0 L200.4 198.6 L197.2 203.2 L194.0 198.6 Z" fill="none" stroke="#e8950c" stroke-width="1.75"/>
<path d="M204.0 199.1 L207.2 203.7 L204.0 208.3 L200.8 203.7 Z" fill="none" stroke="#e8950c" stroke-width="1.75"/>
<path d="M188.6 208.7 L191.8 213.3 L188.6 217.9 L185.4 213.3 Z" fill="none" stroke="#e8950c" stroke-width="1.75"/>
<path d="M200.9 207.3 L204.1 211.9 L200.9 216.5 L197.7 211.9 Z" fill="none" stroke="#e8950c" stroke-width="1.75"/>
<path d="M211.5 207.9 L214.7 212.5 L211.5 217.1 L208.3 212.5 Z" fill="none" stroke="#e8950c" stroke-width="1.75"/>
<path d="M214.8 219.0 L218.0 223.6 L214.8 228.2 L211.6 223.6 Z" fill="none" stroke="#e8950c" stroke-width="1.75"/>
<path d="M218.6 231.6 L221.8 236.2 L218.6 240.8 L215.4 236.2 Z" fill="none" stroke="#e8950c" stroke-width="1.75"/>
<path d="M224.9 234.1 L228.1 238.7 L224.9 243.3 L221.7 238.7 Z" fill="none" stroke="#e8950c" stroke-width="1.75"/>
<path d="M227.6 239.6 L230.8 244.2 L227.6 248.8 L224.4 244.2 Z" fill="none" stroke="#e8950c" stroke-width="1.75"/>
<path d="M239.6 240.1 L242.8 244.7 L239.6 249.3 L236.4 244.7 Z" fill="none" stroke="#e8950c" stroke-width="1.75"/>
<path d="M232.3 251.8 L235.5 256.4 L232.3 261.0 L229.1 256.4 Z" fill="none" stroke="#e8950c" stroke-width="1.75"/>
<path d="M243.3 256.7 L246.5 261.3 L243.3 265.9 L240.1 261.3 Z" fill="none" stroke="#e8950c" stroke-width="1.75"/>
<path d="M250.2 253.5 L253.4 258.1 L250.2 262.7 L247.0 258.1 Z" fill="none" stroke="#e8950c" stroke-width="1.75"/>
<path d="M253.8 259.1 L257.0 263.7 L253.8 268.3 L250.6 263.7 Z" fill="none" stroke="#e8950c" stroke-width="1.75"/>
<path d="M257.3 265.7 L260.5 270.3 L257.3 274.9 L254.1 270.3 Z" fill="none" stroke="#e8950c" stroke-width="1.75"/>
<path d="M220.0 183.4 L223.2 188.0 L220.0 192.6 L216.8 188.0 Z" fill="none" stroke="#e8950c" stroke-width="1.75"/>
<circle cx="220" cy="201.3" r="3.1" fill="none" stroke="#17dbe8" stroke-width="1.8"/>
<text x="228.3" y="191.6" font-family='"Liberation Sans", sans-serif' font-size="11.9" fill="#e8950c" textLength="27.0" lengthAdjust="spacing">fluor.</text>
<text x="228.3" y="204.5" font-family='"Liberation Sans", sans-serif' font-size="11.9" fill="#17dbe8" textLength="29.6" lengthAdjust="spacing">excit.</text>
</g>
<g id="panelC">
<text x="301" y="27.1" font-family='"Liberation Sans", sans-serif' font-weight="bold" font-size="16" fill="#111" textLength="16" lengthAdjust="spacingAndGlyphs">c)</text>
<rect x="411.6" y="24" width="57.4" height="288.5" fill="url(#gPinkC)"/>
<text x="420" y="69.6" font-family='"Liberation Sans", sans-serif' font-size="11.7" fill="#f5a0a5" textLength="38.4" lengthAdjust="spacing">driving</text>
<path d="M363.00 88.70 L371.60 95.70 L379.00 99.90 L387.50 105.20 L395.30 108.00 L403.90 110.40 L411.30 111.30 L419.70 113.30 L426.00 113.70 L434.20 115.30 L440.10 116.20 L446.20 118.50 L452.40 121.50 L457.90 124.40 L463.20 127.60 L468.60 130.80 L474.50 134.50 L482.50 139.40 L482.50 158.90 L474.50 153.00 L468.60 147.60 L463.20 144.50 L457.90 141.00 L452.40 137.50 L446.20 133.50 L440.10 129.50 L434.20 126.00 L426.00 122.00 L419.70 119.50 L411.30 115.50 L403.90 112.50 L395.30 108.30 L387.50 101.50 L379.00 92.50 L371.60 84.00 L363.00 72.50 Z" fill="#9cc22c" fill-opacity="0.3"/>
<path d="M363.00 50.20 L371.60 68.60 L379.00 82.00 L387.50 98.00 L395.30 110.00 L403.90 122.00 L411.30 130.70 L419.70 141.00 L426.00 146.70 L434.20 155.70 L440.10 161.40 L446.20 171.70 L452.40 177.80 L457.90 186.40 L463.20 192.50 L468.60 199.90 L474.50 204.00 L482.50 200.90 L482.50 231.70 L474.50 226.00 L468.60 219.90 L463.20 211.50 L457.90 203.90 L452.40 193.80 L446.20 185.70 L440.10 173.40 L434.20 164.70 L426.00 152.70 L419.70 145.00 L411.30 132.70 L403.90 123.20 L395.30 110.60 L387.50 98.30 L379.00 82.00 L371.60 68.60 L363.00 50.20 Z" fill="#2f9f6b" fill-opacity="0.3"/>
<path d="M363.00 41.91 L371.60 61.79 L379.00 77.78 L387.50 96.22 L395.30 112.34 L403.90 128.02 L411.30 140.71 L419.70 155.42 L426.00 165.56 L434.20 179.51 L440.10 189.01 L446.20 198.28 L452.40 208.19 L457.90 217.06 L463.20 225.97 L468.60 239.12 L474.50 240.72 L482.50 241.81 L482.50 262.71 L474.50 259.52 L468.60 251.82 L463.20 241.97 L457.90 233.26 L452.40 223.69 L446.20 212.28 L440.10 201.01 L434.20 190.01 L426.00 173.56 L419.70 161.42 L411.30 144.21 L403.90 129.52 L395.30 112.34 L387.50 96.22 L379.00 77.78 L371.60 61.79 L363.00 41.91 Z" fill="#2a7a8c" fill-opacity="0.4"/>
<path d="M363.00 41.91 L371.60 61.89 L379.00 77.98 L387.50 97.22 L395.30 114.64 L403.90 133.92 L411.30 150.21 L419.70 168.72 L426.00 182.36 L434.20 199.41 L440.10 210.81 L446.20 222.18 L452.40 233.28 L457.90 242.86 L463.20 251.17 L468.60 258.62 L474.50 262.92 L482.50 263.81 L482.50 289.41 L474.50 282.42 L468.60 272.62 L463.20 261.67 L457.90 250.36 L452.40 238.28 L446.20 225.18 L440.10 212.31 L434.20 199.91 L426.00 182.36 L419.70 168.72 L411.30 150.21 L403.90 133.92 L395.30 114.64 L387.50 97.22 L379.00 77.98 L371.60 61.89 L363.00 41.91 Z" fill="#3f4788" fill-opacity="0.4"/>
<path d="M363.00 41.91 L371.60 61.89 L379.00 77.98 L387.50 97.42 L395.30 114.94 L403.90 135.32 L411.30 151.61 L419.70 170.42 L426.00 184.86 L434.20 203.71 L440.10 216.71 L446.20 229.68 L452.40 242.28 L457.90 251.56 L463.20 260.07 L468.60 268.52 L474.50 274.42 L482.50 277.51 L482.50 301.11 L474.50 289.42 L468.60 278.52 L463.20 267.57 L457.90 256.56 L452.40 245.28 L446.20 231.18 L440.10 217.21 L434.20 203.71 L426.00 184.86 L419.70 170.42 L411.30 151.61 L403.90 135.32 L395.30 114.94 L387.50 97.42 L379.00 77.98 L371.60 61.89 L363.00 41.91 Z" fill="#440154" fill-opacity="0.4"/>
<line x1="358.1" y1="29.37" x2="401.69" y2="131.5" stroke="#12dbe6" stroke-width="2.9"/>
<line x1="405.92" y1="141.4" x2="478.6" y2="311.7" stroke="#12dbe6" stroke-width="2.9" stroke-dasharray="9.9 10.05"/>
<text transform="translate(376.2,122) rotate(64)" font-family='"Liberation Sans", sans-serif' font-size="11.3" fill="#12dbe6" textLength="42.5" lengthAdjust="spacing">thermal</text>
<path d="M363.00 88.70 L371.60 95.70 L379.00 99.90 L387.50 105.20 L395.30 108.00 L403.90 110.40 L411.30 111.30 L419.70 113.30 L426.00 113.70 L434.20 115.30 L440.10 116.20 L446.20 118.50 L452.40 121.50 L457.90 124.40 L463.20 127.60 L468.60 130.80 L474.50 134.50 L482.50 139.40" fill="none" stroke="#9cc22c" stroke-width="1.5"/>
<circle cx="363.0" cy="88.7" r="3" fill="#9cc22c"/>
<circle cx="371.6" cy="95.7" r="3" fill="#9cc22c"/>
<circle cx="379.0" cy="99.9" r="3" fill="#9cc22c"/>
<circle cx="387.5" cy="105.2" r="3" fill="#9cc22c"/>
<circle cx="395.3" cy="108.0" r="3" fill="#9cc22c"/>
<circle cx="403.9" cy="110.4" r="3" fill="#9cc22c"/>
<circle cx="411.3" cy="111.3" r="3" fill="#9cc22c"/>
<circle cx="419.7" cy="113.3" r="3" fill="#9cc22c"/>
<circle cx="426.0" cy="113.7" r="3" fill="#9cc22c"/>
<circle cx="434.2" cy="115.3" r="3" fill="#9cc22c"/>
<circle cx="440.1" cy="116.2" r="3" fill="#9cc22c"/>
<circle cx="446.2" cy="118.5" r="3" fill="#9cc22c"/>
<circle cx="452.4" cy="121.5" r="3" fill="#9cc22c"/>
<circle cx="457.9" cy="124.4" r="3" fill="#9cc22c"/>
<circle cx="463.2" cy="127.6" r="3" fill="#9cc22c"/>
<circle cx="468.6" cy="130.8" r="3" fill="#9cc22c"/>
<circle cx="474.5" cy="134.5" r="3" fill="#9cc22c"/>
<circle cx="482.5" cy="139.4" r="3" fill="#9cc22c"/>
<path d="M363.00 50.20 L371.60 68.60 L379.00 82.00 L387.50 98.00 L395.30 110.00 L403.90 122.00 L411.30 130.70 L419.70 141.00 L426.00 146.70 L434.20 155.70 L440.10 161.40 L446.20 171.70 L452.40 177.80 L457.90 186.40 L463.20 192.50 L468.60 199.90 L474.50 204.00 L482.50 208.20" fill="none" stroke="#2f9f6b" stroke-width="1.5"/>
<circle cx="363.0" cy="50.2" r="3" fill="#2f9f6b"/>
<circle cx="371.6" cy="68.6" r="3" fill="#2f9f6b"/>
<circle cx="379.0" cy="82.0" r="3" fill="#2f9f6b"/>
<circle cx="387.5" cy="98.0" r="3" fill="#2f9f6b"/>
<circle cx="395.3" cy="110.0" r="3" fill="#2f9f6b"/>
<circle cx="403.9" cy="122.0" r="3" fill="#2f9f6b"/>
<circle cx="411.3" cy="130.7" r="3" fill="#2f9f6b"/>
<circle cx="419.7" cy="141.0" r="3" fill="#2f9f6b"/>
<circle cx="426.0" cy="146.7" r="3" fill="#2f9f6b"/>
<circle cx="434.2" cy="155.7" r="3" fill="#2f9f6b"/>
<circle cx="440.1" cy="161.4" r="3" fill="#2f9f6b"/>
<circle cx="446.2" cy="171.7" r="3" fill="#2f9f6b"/>
<circle cx="452.4" cy="177.8" r="3" fill="#2f9f6b"/>
<circle cx="457.9" cy="186.4" r="3" fill="#2f9f6b"/>
<circle cx="463.2" cy="192.5" r="3" fill="#2f9f6b"/>
<circle cx="468.6" cy="199.9" r="3" fill="#2f9f6b"/>
<circle cx="474.5" cy="204.0" r="3" fill="#2f9f6b"/>
<circle cx="482.5" cy="208.2" r="3" fill="#2f9f6b"/>
<path d="M363.00 41.91 L371.60 61.79 L379.00 77.78 L387.50 96.22 L395.30 112.34 L403.90 129.52 L411.30 144.21 L419.70 161.42 L426.00 173.56 L434.20 190.01 L440.10 201.01 L446.20 212.28 L452.40 223.69 L457.90 233.26 L463.20 241.97 L468.60 251.82 L474.50 259.52 L482.50 262.71" fill="none" stroke="#2a7a8c" stroke-width="1.5"/>
<circle cx="363.0" cy="41.9" r="3" fill="#2a7a8c"/>
<circle cx="371.6" cy="61.8" r="3" fill="#2a7a8c"/>
<circle cx="379.0" cy="77.8" r="3" fill="#2a7a8c"/>
<circle cx="387.5" cy="96.2" r="3" fill="#2a7a8c"/>
<circle cx="395.3" cy="112.3" r="3" fill="#2a7a8c"/>
<circle cx="403.9" cy="129.5" r="3" fill="#2a7a8c"/>
<circle cx="411.3" cy="144.2" r="3" fill="#2a7a8c"/>
<circle cx="419.7" cy="161.4" r="3" fill="#2a7a8c"/>
<circle cx="426.0" cy="173.6" r="3" fill="#2a7a8c"/>
<circle cx="434.2" cy="190.0" r="3" fill="#2a7a8c"/>
<circle cx="440.1" cy="201.0" r="3" fill="#2a7a8c"/>
<circle cx="446.2" cy="212.3" r="3" fill="#2a7a8c"/>
<circle cx="452.4" cy="223.7" r="3" fill="#2a7a8c"/>
<circle cx="457.9" cy="233.3" r="3" fill="#2a7a8c"/>
<circle cx="463.2" cy="242.0" r="3" fill="#2a7a8c"/>
<circle cx="468.6" cy="251.8" r="3" fill="#2a7a8c"/>
<circle cx="474.5" cy="259.5" r="3" fill="#2a7a8c"/>
<circle cx="482.5" cy="262.7" r="3" fill="#2a7a8c"/>
<path d="M363.00 41.91 L371.60 61.89 L379.00 77.98 L387.50 97.22 L395.30 114.64 L403.90 133.92 L411.30 150.21 L419.70 168.72 L426.00 182.36 L434.20 199.91 L440.10 212.31 L446.20 225.18 L452.40 238.28 L457.90 250.36 L463.20 261.67 L468.60 272.62 L474.50 282.42 L482.50 289.41" fill="none" stroke="#3f4788" stroke-width="1.5"/>
<circle cx="363.0" cy="41.9" r="3" fill="#3f4788"/>
<circle cx="371.6" cy="61.9" r="3" fill="#3f4788"/>
<circle cx="379.0" cy="78.0" r="3" fill="#3f4788"/>
<circle cx="387.5" cy="97.2" r="3" fill="#3f4788"/>
<circle cx="395.3" cy="114.6" r="3" fill="#3f4788"/>
<circle cx="403.9" cy="133.9" r="3" fill="#3f4788"/>
<circle cx="411.3" cy="150.2" r="3" fill="#3f4788"/>
<circle cx="419.7" cy="168.7" r="3" fill="#3f4788"/>
<circle cx="426.0" cy="182.4" r="3" fill="#3f4788"/>
<circle cx="434.2" cy="199.9" r="3" fill="#3f4788"/>
<circle cx="440.1" cy="212.3" r="3" fill="#3f4788"/>
<circle cx="446.2" cy="225.2" r="3" fill="#3f4788"/>
<circle cx="452.4" cy="238.3" r="3" fill="#3f4788"/>
<circle cx="457.9" cy="250.4" r="3" fill="#3f4788"/>
<circle cx="463.2" cy="261.7" r="3" fill="#3f4788"/>
<circle cx="468.6" cy="272.6" r="3" fill="#3f4788"/>
<circle cx="474.5" cy="282.4" r="3" fill="#3f4788"/>
<circle cx="482.5" cy="289.4" r="3" fill="#3f4788"/>
<path d="M363.00 41.91 L371.60 61.89 L379.00 77.98 L387.50 97.42 L395.30 114.94 L403.90 135.32 L411.30 151.61 L419.70 170.42 L426.00 184.86 L434.20 203.71 L440.10 217.21 L446.20 231.18 L452.40 245.28 L457.90 256.56 L463.20 267.57 L468.60 278.52 L474.50 289.42 L482.50 301.11" fill="none" stroke="#440154" stroke-width="1.5"/>
<circle cx="363.0" cy="41.9" r="3" fill="#440154"/>
<circle cx="371.6" cy="61.9" r="3" fill="#440154"/>
<circle cx="379.0" cy="78.0" r="3" fill="#440154"/>
<circle cx="387.5" cy="97.4" r="3" fill="#440154"/>
<circle cx="395.3" cy="114.9" r="3" fill="#440154"/>
<circle cx="403.9" cy="135.3" r="3" fill="#440154"/>
<circle cx="411.3" cy="151.6" r="3" fill="#440154"/>
<circle cx="419.7" cy="170.4" r="3" fill="#440154"/>
<circle cx="426.0" cy="184.9" r="3" fill="#440154"/>
<circle cx="434.2" cy="203.7" r="3" fill="#440154"/>
<circle cx="440.1" cy="217.2" r="3" fill="#440154"/>
<circle cx="446.2" cy="231.2" r="3" fill="#440154"/>
<circle cx="452.4" cy="245.3" r="3" fill="#440154"/>
<circle cx="457.9" cy="256.6" r="3" fill="#440154"/>
<circle cx="463.2" cy="267.6" r="3" fill="#440154"/>
<circle cx="468.6" cy="278.5" r="3" fill="#440154"/>
<circle cx="474.5" cy="289.4" r="3" fill="#440154"/>
<circle cx="482.5" cy="301.1" r="3" fill="#440154"/>
<text x="491.2" y="144.2" font-family='"Liberation Sans", sans-serif' font-size="11.9" fill="#9cc22c" textLength="38.2" lengthAdjust="spacing">6.5 nm</text>
<text x="491.2" y="213.2" font-family='"Liberation Sans", sans-serif' font-size="11.9" fill="#2f9f6b" textLength="38.2" lengthAdjust="spacing">7.0 nm</text>
<text x="491.2" y="266.2" font-family='"Liberation Sans", sans-serif' font-size="11.9" fill="#2a7a8c" textLength="38.2" lengthAdjust="spacing">7.5 nm</text>
<text x="491.2" y="294.4" font-family='"Liberation Sans", sans-serif' font-size="11.9" fill="#3f4788" textLength="38.2" lengthAdjust="spacing">8.0 nm</text>
<text x="491.2" y="306.2" font-family='"Liberation Sans", sans-serif' font-size="11.9" fill="#440154" textLength="38.2" lengthAdjust="spacing">8.5 nm</text>
<line x1="344.6" y1="316" x2="344.6" y2="34" stroke="#2a1216" stroke-width="1.3"/>
<path d="M344.6 28 L348.6 36 L340.6 36 Z" fill="#2a1216"/>
<line x1="340.8" y1="312.8" x2="505" y2="312.8" stroke="#2a1216" stroke-width="1.3"/>
<path d="M511.5 312.8 L503.5 308.8 L503.5 316.8 Z" fill="#2a1216"/>
<line x1="365.1" y1="312.8" x2="365.1" y2="309.4" stroke="#2a1216" stroke-width="0.9"/>
<text x="369.9" y="326.3" text-anchor="middle" font-family='"Liberation Serif", serif' font-size="10.6" fill="#222">1.15</text>
<line x1="402.5" y1="312.8" x2="402.5" y2="309.4" stroke="#2a1216" stroke-width="0.9"/>
<text x="405.1" y="326.3" text-anchor="middle" font-family='"Liberation Serif", serif' font-size="10.6" fill="#222">1.20</text>
<line x1="439.6" y1="312.8" x2="439.6" y2="309.4" stroke="#2a1216" stroke-width="0.9"/>
<text x="440.1" y="326.3" text-anchor="middle" font-family='"Liberation Serif", serif' font-size="10.6" fill="#222">1.25</text>
<line x1="476.9" y1="312.8" x2="476.9" y2="309.4" stroke="#2a1216" stroke-width="0.9"/>
<text x="478.8" y="326.3" text-anchor="middle" font-family='"Liberation Serif", serif' font-size="10.6" fill="#222">1.30</text>
<line x1="344.6" y1="50.5" x2="348.3" y2="50.5" stroke="#2a1216" stroke-width="0.9"/>
<text x="320.6" y="53.5" font-family='"Liberation Serif", serif' font-size="10.1" fill="#222">10</text>
<text x="331.5" y="49.4" font-family='"Liberation Serif", serif' font-size="7.8" fill="#222" textLength="9.0" lengthAdjust="spacing">−1</text>
<line x1="344.6" y1="132.8" x2="348.3" y2="132.8" stroke="#2a1216" stroke-width="0.9"/>
<text x="320.6" y="135.8" font-family='"Liberation Serif", serif' font-size="10.1" fill="#222">10</text>
<text x="331.5" y="131.7" font-family='"Liberation Serif", serif' font-size="7.8" fill="#222" textLength="9.0" lengthAdjust="spacing">−2</text>
<line x1="344.6" y1="215.1" x2="348.3" y2="215.1" stroke="#2a1216" stroke-width="0.9"/>
<text x="320.6" y="218.1" font-family='"Liberation Serif", serif' font-size="10.1" fill="#222">10</text>
<text x="331.5" y="214.0" font-family='"Liberation Serif", serif' font-size="7.8" fill="#222" textLength="9.0" lengthAdjust="spacing">−3</text>
<line x1="344.6" y1="297.4" x2="348.3" y2="297.4" stroke="#2a1216" stroke-width="0.9"/>
<text x="320.6" y="300.4" font-family='"Liberation Serif", serif' font-size="10.1" fill="#222">10</text>
<text x="331.5" y="296.3" font-family='"Liberation Serif", serif' font-size="7.8" fill="#222" textLength="9.0" lengthAdjust="spacing">−4</text>
<text x="376.2" y="341" font-family='"Liberation Serif", serif' font-size="11.6" fill="#222" textLength="60.5" lengthAdjust="spacing">Energy / 10</text>
<text x="437.6" y="336.6" font-family='"Liberation Serif", serif' font-size="8" fill="#222">4</text>
<text x="447.2" y="341" font-family='"Liberation Serif", serif' font-size="11.6" fill="#222" textLength="13.8" lengthAdjust="spacing">cm</text>
<text x="461.6" y="336.6" font-family='"Liberation Serif", serif' font-size="8.6" fill="#222">−1</text>
<text transform="translate(313.5,201.2) rotate(-90)" font-family='"Liberation Serif", serif' font-size="11.6" fill="#222" textLength="54.6" lengthAdjust="spacing">Population</text>
</g>
<g id="panelD">
<text x="545.6" y="27.1" font-family='"Liberation Sans", sans-serif' font-weight="bold" font-size="16" fill="#111" textLength="16.9" lengthAdjust="spacingAndGlyphs">d)</text>
<path d="M634.21 21.20 L634.16 22.73 L634.10 24.26 L634.02 25.78 L633.91 27.31 L633.77 28.84 L633.59 30.37 L633.36 31.89 L633.08 33.42 L632.75 34.95 L632.37 36.48 L631.94 38.00 L631.46 39.53 L630.96 41.06 L630.44 42.59 L629.92 44.11 L629.42 45.64 L628.97 47.17 L628.58 48.70 L628.28 50.22 L628.09 51.75 L628.00 53.28 L628.05 54.80 L628.24 56.33 L628.56 57.86 L629.00 59.39 L629.51 60.91 L630.08 62.44 L630.67 63.97 L631.26 65.50 L631.80 67.03 L632.30 68.55 L632.74 70.08 L633.11 71.61 L633.41 73.13 L633.66 74.66 L633.84 76.19 L633.98 77.72 L634.09 79.25 L634.16 80.77 L634.21 82.30 L634.39 82.30 L634.44 80.77 L634.51 79.25 L634.62 77.72 L634.76 76.19 L634.94 74.66 L635.19 73.13 L635.49 71.61 L635.86 70.08 L636.30 68.55 L636.80 67.03 L637.34 65.50 L637.93 63.97 L638.52 62.44 L639.09 60.91 L639.60 59.39 L640.04 57.86 L640.36 56.33 L640.55 54.80 L640.60 53.28 L640.51 51.75 L640.32 50.22 L640.02 48.70 L639.63 47.17 L639.18 45.64 L638.68 44.11 L638.16 42.59 L637.64 41.06 L637.14 39.53 L636.66 38.00 L636.23 36.48 L635.85 34.95 L635.52 33.42 L635.24 31.89 L635.01 30.37 L634.83 28.84 L634.69 27.31 L634.58 25.78 L634.50 24.26 L634.44 22.73 L634.39 21.20 Z" fill="#6fadde"/>
<path d="M653.47 53.60 L653.43 55.17 L653.37 56.75 L653.30 58.32 L653.21 59.90 L653.08 61.47 L652.93 63.05 L652.74 64.62 L652.51 66.20 L652.23 67.77 L651.91 69.35 L651.54 70.92 L651.14 72.50 L650.69 74.07 L650.22 75.65 L649.74 77.22 L649.26 78.80 L648.79 80.38 L648.36 81.95 L647.98 83.52 L647.66 85.10 L647.43 86.67 L647.30 88.25 L647.26 89.82 L647.38 91.40 L647.66 92.97 L648.10 94.55 L648.64 96.12 L649.26 97.70 L649.90 99.27 L650.54 100.85 L651.14 102.42 L651.67 104.00 L652.13 105.57 L652.51 107.15 L652.81 108.72 L653.04 110.30 L653.21 111.88 L653.33 113.45 L653.41 115.02 L653.47 116.60 L653.65 116.60 L653.71 115.02 L653.79 113.45 L653.91 111.88 L654.08 110.30 L654.31 108.72 L654.61 107.15 L654.99 105.57 L655.45 104.00 L655.98 102.42 L656.58 100.85 L657.22 99.27 L657.86 97.70 L658.48 96.12 L659.02 94.55 L659.46 92.97 L659.74 91.40 L659.86 89.82 L659.82 88.25 L659.69 86.67 L659.46 85.10 L659.14 83.52 L658.76 81.95 L658.33 80.38 L657.86 78.80 L657.38 77.22 L656.90 75.65 L656.43 74.07 L655.98 72.50 L655.58 70.92 L655.21 69.35 L654.89 67.77 L654.61 66.20 L654.38 64.62 L654.19 63.05 L654.04 61.47 L653.91 59.90 L653.82 58.32 L653.75 56.75 L653.69 55.17 L653.65 53.60 Z" fill="#6fadde"/>
<path d="M672.73 82.10 L672.69 83.26 L672.63 84.42 L672.56 85.59 L672.47 86.75 L672.34 87.91 L672.19 89.07 L671.99 90.24 L671.76 91.40 L671.48 92.56 L671.16 93.72 L670.79 94.89 L670.38 96.05 L669.94 97.21 L669.46 98.38 L668.98 99.54 L668.49 100.70 L668.03 101.86 L667.60 103.02 L667.22 104.19 L666.91 105.35 L666.68 106.51 L666.55 107.67 L666.52 108.84 L666.65 110.00 L666.94 111.16 L667.38 112.32 L667.93 113.49 L668.54 114.65 L669.19 115.81 L669.82 116.97 L670.41 118.14 L670.94 119.30 L671.40 120.46 L671.77 121.62 L672.07 122.79 L672.30 123.95 L672.47 125.11 L672.59 126.27 L672.67 127.44 L672.73 128.60 L672.91 128.60 L672.97 127.44 L673.05 126.27 L673.17 125.11 L673.34 123.95 L673.57 122.79 L673.87 121.62 L674.24 120.46 L674.70 119.30 L675.23 118.14 L675.82 116.97 L676.45 115.81 L677.10 114.65 L677.71 113.49 L678.26 112.32 L678.70 111.16 L678.99 110.00 L679.12 108.84 L679.09 107.67 L678.96 106.51 L678.73 105.35 L678.42 104.19 L678.04 103.02 L677.61 101.86 L677.15 100.70 L676.66 99.54 L676.18 98.38 L675.70 97.21 L675.26 96.05 L674.85 94.89 L674.48 93.72 L674.16 92.56 L673.88 91.40 L673.65 90.24 L673.45 89.07 L673.30 87.91 L673.17 86.75 L673.08 85.59 L673.01 84.42 L672.95 83.26 L672.91 82.10 Z" fill="#6fadde"/>
<path d="M691.99 94.80 L691.95 95.75 L691.91 96.70 L691.84 97.65 L691.77 98.60 L691.67 99.55 L691.54 100.50 L691.39 101.45 L691.21 102.40 L690.99 103.35 L690.74 104.30 L690.45 105.25 L690.12 106.20 L689.76 107.15 L689.36 108.10 L688.95 109.05 L688.51 110.00 L688.07 110.95 L687.64 111.90 L687.22 112.85 L686.84 113.80 L686.50 114.75 L686.21 115.70 L685.99 116.65 L685.85 117.60 L685.78 118.55 L685.85 119.50 L686.14 120.45 L686.64 121.40 L687.28 122.35 L688.01 123.30 L688.76 124.25 L689.48 125.20 L690.12 126.15 L690.66 127.10 L691.09 128.05 L691.41 129.00 L691.65 129.95 L691.81 130.90 L691.92 131.85 L691.99 132.80 L692.17 132.80 L692.24 131.85 L692.35 130.90 L692.51 129.95 L692.75 129.00 L693.07 128.05 L693.50 127.10 L694.04 126.15 L694.68 125.20 L695.40 124.25 L696.15 123.30 L696.88 122.35 L697.52 121.40 L698.02 120.45 L698.31 119.50 L698.38 118.55 L698.31 117.60 L698.17 116.65 L697.95 115.70 L697.66 114.75 L697.32 113.80 L696.94 112.85 L696.52 111.90 L696.09 110.95 L695.65 110.00 L695.21 109.05 L694.80 108.10 L694.40 107.15 L694.04 106.20 L693.71 105.25 L693.42 104.30 L693.17 103.35 L692.95 102.40 L692.77 101.45 L692.62 100.50 L692.49 99.55 L692.39 98.60 L692.32 97.65 L692.25 96.70 L692.21 95.75 L692.17 94.80 Z" fill="#6fadde"/>
<path d="M711.25 111.40 L711.21 112.05 L711.15 112.70 L711.07 113.35 L710.97 114.00 L710.83 114.65 L710.66 115.30 L710.45 115.95 L710.19 116.60 L709.88 117.25 L709.52 117.90 L709.12 118.55 L708.67 119.20 L708.19 119.85 L707.69 120.50 L707.18 121.15 L706.69 121.80 L706.22 122.45 L705.81 123.10 L705.48 123.75 L705.23 124.40 L705.08 125.05 L705.04 125.70 L705.15 126.35 L705.40 127.00 L705.80 127.65 L706.29 128.30 L706.86 128.95 L707.47 129.60 L708.07 130.25 L708.66 130.90 L709.19 131.55 L709.66 132.20 L710.06 132.85 L710.39 133.50 L710.66 134.15 L710.86 134.80 L711.01 135.45 L711.12 136.10 L711.20 136.75 L711.25 137.40 L711.43 137.40 L711.48 136.75 L711.56 136.10 L711.67 135.45 L711.82 134.80 L712.02 134.15 L712.29 133.50 L712.62 132.85 L713.02 132.20 L713.49 131.55 L714.02 130.90 L714.61 130.25 L715.21 129.60 L715.82 128.95 L716.39 128.30 L716.88 127.65 L717.28 127.00 L717.53 126.35 L717.64 125.70 L717.60 125.05 L717.45 124.40 L717.20 123.75 L716.87 123.10 L716.46 122.45 L715.99 121.80 L715.50 121.15 L714.99 120.50 L714.49 119.85 L714.01 119.20 L713.56 118.55 L713.16 117.90 L712.80 117.25 L712.49 116.60 L712.23 115.95 L712.02 115.30 L711.85 114.65 L711.71 114.00 L711.61 113.35 L711.53 112.70 L711.47 112.05 L711.43 111.40 Z" fill="#6fadde"/>
<path d="M730.51 116.90 L730.47 117.43 L730.41 117.95 L730.34 118.48 L730.25 119.00 L730.12 119.53 L729.97 120.05 L729.78 120.58 L729.55 121.10 L729.27 121.62 L728.95 122.15 L728.58 122.68 L728.18 123.20 L727.73 123.73 L727.26 124.25 L726.78 124.78 L726.30 125.30 L725.83 125.83 L725.40 126.35 L725.02 126.88 L724.70 127.40 L724.47 127.93 L724.34 128.45 L724.30 128.97 L724.42 129.50 L724.70 130.03 L725.14 130.55 L725.68 131.08 L726.30 131.60 L726.94 132.12 L727.58 132.65 L728.18 133.18 L728.71 133.70 L729.17 134.22 L729.55 134.75 L729.85 135.28 L730.08 135.80 L730.25 136.33 L730.37 136.85 L730.45 137.38 L730.51 137.90 L730.69 137.90 L730.75 137.38 L730.83 136.85 L730.95 136.33 L731.12 135.80 L731.35 135.28 L731.65 134.75 L732.03 134.22 L732.49 133.70 L733.02 133.18 L733.62 132.65 L734.26 132.12 L734.90 131.60 L735.52 131.08 L736.06 130.55 L736.50 130.03 L736.78 129.50 L736.90 128.97 L736.86 128.45 L736.73 127.93 L736.50 127.40 L736.18 126.88 L735.80 126.35 L735.37 125.83 L734.90 125.30 L734.42 124.78 L733.94 124.25 L733.47 123.73 L733.02 123.20 L732.62 122.68 L732.25 122.15 L731.93 121.62 L731.65 121.10 L731.42 120.58 L731.23 120.05 L731.08 119.53 L730.95 119.00 L730.86 118.48 L730.79 117.95 L730.73 117.43 L730.69 116.90 Z" fill="#6fadde"/>
<path d="M749.77 121.70 L749.73 122.09 L749.68 122.49 L749.61 122.89 L749.51 123.28 L749.40 123.67 L749.25 124.07 L749.07 124.47 L748.84 124.86 L748.58 125.25 L748.27 125.65 L747.92 126.05 L747.53 126.44 L747.10 126.84 L746.65 127.23 L746.18 127.62 L745.70 128.02 L745.23 128.41 L744.80 128.81 L744.40 129.21 L744.07 129.60 L743.81 130.00 L743.64 130.39 L743.56 130.78 L743.61 131.18 L743.83 131.57 L744.22 131.97 L744.75 132.37 L745.36 132.76 L746.02 133.16 L746.68 133.55 L747.30 133.94 L747.86 134.34 L748.35 134.74 L748.75 135.13 L749.07 135.53 L749.32 135.92 L749.50 136.31 L749.62 136.71 L749.71 137.10 L749.77 137.50 L749.95 137.50 L750.01 137.10 L750.10 136.71 L750.22 136.31 L750.40 135.92 L750.65 135.53 L750.97 135.13 L751.37 134.74 L751.86 134.34 L752.42 133.94 L753.04 133.55 L753.70 133.16 L754.36 132.76 L754.97 132.37 L755.50 131.97 L755.89 131.57 L756.11 131.18 L756.16 130.78 L756.08 130.39 L755.91 130.00 L755.65 129.60 L755.32 129.21 L754.92 128.81 L754.49 128.41 L754.02 128.02 L753.54 127.62 L753.07 127.23 L752.62 126.84 L752.19 126.44 L751.80 126.05 L751.45 125.65 L751.14 125.25 L750.88 124.86 L750.65 124.47 L750.47 124.07 L750.32 123.67 L750.21 123.28 L750.11 122.89 L750.04 122.49 L749.99 122.09 L749.95 121.70 Z" fill="#6fadde"/>
<path d="M769.03 124.70 L768.99 125.06 L768.93 125.43 L768.85 125.79 L768.75 126.16 L768.61 126.52 L768.44 126.89 L768.23 127.25 L767.98 127.62 L767.67 127.98 L767.32 128.35 L766.92 128.71 L766.47 129.08 L765.99 129.44 L765.49 129.81 L764.99 130.17 L764.49 130.54 L764.03 130.91 L763.62 131.27 L763.28 131.63 L763.02 132.00 L762.87 132.36 L762.82 132.73 L762.91 133.09 L763.16 133.46 L763.55 133.82 L764.04 134.19 L764.61 134.55 L765.22 134.92 L765.83 135.28 L766.42 135.65 L766.95 136.01 L767.43 136.38 L767.83 136.74 L768.17 137.11 L768.43 137.47 L768.64 137.84 L768.79 138.20 L768.90 138.57 L768.98 138.94 L769.03 139.30 L769.21 139.30 L769.26 138.94 L769.34 138.57 L769.45 138.20 L769.60 137.84 L769.81 137.47 L770.07 137.11 L770.41 136.74 L770.81 136.38 L771.29 136.01 L771.82 135.65 L772.41 135.28 L773.02 134.92 L773.63 134.55 L774.20 134.19 L774.69 133.82 L775.08 133.46 L775.33 133.09 L775.42 132.73 L775.37 132.36 L775.22 132.00 L774.96 131.63 L774.62 131.27 L774.21 130.91 L773.75 130.54 L773.25 130.17 L772.75 129.81 L772.25 129.44 L771.77 129.08 L771.32 128.71 L770.92 128.35 L770.57 127.98 L770.26 127.62 L770.01 127.25 L769.80 126.89 L769.63 126.52 L769.49 126.16 L769.39 125.79 L769.31 125.43 L769.25 125.06 L769.21 124.70 Z" fill="#6fadde"/>
<path d="M788.29 128.70 L788.24 128.96 L788.18 129.22 L788.10 129.49 L787.99 129.75 L787.84 130.01 L787.65 130.27 L787.42 130.54 L787.13 130.80 L786.79 131.06 L786.40 131.32 L785.96 131.59 L785.47 131.85 L784.96 132.11 L784.43 132.38 L783.90 132.64 L783.41 132.90 L782.96 133.16 L782.59 133.42 L782.31 133.69 L782.13 133.95 L782.08 134.21 L782.16 134.47 L782.38 134.74 L782.73 135.00 L783.18 135.26 L783.70 135.52 L784.27 135.79 L784.85 136.05 L785.42 136.31 L785.96 136.57 L786.44 136.84 L786.86 137.10 L787.22 137.36 L787.52 137.62 L787.75 137.89 L787.93 138.15 L788.07 138.41 L788.17 138.67 L788.24 138.94 L788.29 139.20 L788.47 139.20 L788.52 138.94 L788.59 138.67 L788.69 138.41 L788.83 138.15 L789.01 137.89 L789.24 137.62 L789.54 137.36 L789.90 137.10 L790.32 136.84 L790.80 136.57 L791.34 136.31 L791.91 136.05 L792.49 135.79 L793.06 135.52 L793.58 135.26 L794.03 135.00 L794.38 134.74 L794.60 134.47 L794.68 134.21 L794.63 133.95 L794.45 133.69 L794.17 133.42 L793.80 133.16 L793.35 132.90 L792.86 132.64 L792.33 132.38 L791.80 132.11 L791.29 131.85 L790.80 131.59 L790.36 131.32 L789.97 131.06 L789.63 130.80 L789.34 130.54 L789.11 130.27 L788.92 130.01 L788.77 129.75 L788.66 129.49 L788.58 129.22 L788.52 128.96 L788.47 128.70 Z" fill="#6fadde"/>
<path d="M634.30 59.76 L634.25 60.14 L634.19 60.51 L634.13 60.89 L634.08 61.27 L634.02 61.64 L633.97 62.02 L633.91 62.40 L633.86 62.78 L633.80 63.15 L633.75 63.53 L633.69 63.91 L633.53 64.28 L632.94 64.66 L632.31 65.04 L631.66 65.41 L630.98 65.79 L630.28 66.17 L629.57 66.55 L628.84 66.92 L628.10 67.30 L628.84 67.68 L629.57 68.05 L630.28 68.43 L630.98 68.81 L631.66 69.19 L632.31 69.56 L632.94 69.94 L633.53 70.32 L633.69 70.69 L633.75 71.07 L633.80 71.45 L633.86 71.82 L633.91 72.20 L633.97 72.58 L634.02 72.95 L634.08 73.33 L634.13 73.71 L634.19 74.09 L634.25 74.46 L634.30 74.84 L634.30 74.84 L634.35 74.46 L634.41 74.09 L634.46 73.71 L634.52 73.33 L634.57 72.95 L634.63 72.58 L634.68 72.20 L634.74 71.82 L634.79 71.45 L634.85 71.07 L634.90 70.69 L635.07 70.32 L635.66 69.94 L636.29 69.56 L636.94 69.19 L637.62 68.81 L638.32 68.43 L639.03 68.05 L639.76 67.68 L640.50 67.30 L639.76 66.92 L639.03 66.55 L638.32 66.17 L637.62 65.79 L636.94 65.41 L636.29 65.04 L635.66 64.66 L635.07 64.28 L634.90 63.91 L634.85 63.53 L634.79 63.15 L634.74 62.78 L634.68 62.40 L634.63 62.02 L634.57 61.64 L634.52 61.27 L634.46 60.89 L634.41 60.51 L634.35 60.14 L634.30 59.76 Z" fill="#eda583"/>
<path d="M653.56 95.80 L653.50 96.12 L653.45 96.45 L653.39 96.77 L653.34 97.10 L653.28 97.42 L653.23 97.75 L653.17 98.08 L653.12 98.40 L653.06 98.72 L653.01 99.05 L652.66 99.38 L652.14 99.70 L651.60 100.02 L651.03 100.35 L650.45 100.67 L649.86 101.00 L649.25 101.33 L648.63 101.65 L648.00 101.97 L647.36 102.30 L648.00 102.62 L648.63 102.95 L649.25 103.27 L649.86 103.60 L650.45 103.92 L651.03 104.25 L651.60 104.58 L652.14 104.90 L652.66 105.22 L653.01 105.55 L653.06 105.88 L653.12 106.20 L653.17 106.52 L653.23 106.85 L653.28 107.17 L653.34 107.50 L653.39 107.83 L653.45 108.15 L653.50 108.47 L653.56 108.80 L653.56 108.80 L653.61 108.47 L653.67 108.15 L653.72 107.83 L653.78 107.50 L653.83 107.17 L653.89 106.85 L653.94 106.52 L654.00 106.20 L654.05 105.88 L654.11 105.55 L654.46 105.22 L654.98 104.90 L655.52 104.58 L656.09 104.25 L656.67 103.92 L657.26 103.60 L657.87 103.27 L658.49 102.95 L659.12 102.62 L659.76 102.30 L659.12 101.97 L658.49 101.65 L657.87 101.33 L657.26 101.00 L656.67 100.67 L656.09 100.35 L655.52 100.02 L654.98 99.70 L654.46 99.38 L654.11 99.05 L654.05 98.72 L654.00 98.40 L653.94 98.08 L653.89 97.75 L653.83 97.42 L653.78 97.10 L653.72 96.77 L653.67 96.45 L653.61 96.12 L653.56 95.80 Z" fill="#eda583"/>
<path d="M672.82 108.82 L672.76 109.12 L672.71 109.42 L672.65 109.72 L672.60 110.02 L672.54 110.31 L672.49 110.61 L672.43 110.91 L672.25 111.21 L671.86 111.51 L671.44 111.81 L671.00 112.11 L670.56 112.41 L670.09 112.71 L669.62 113.01 L669.14 113.30 L668.65 113.60 L668.15 113.90 L667.65 114.20 L667.14 114.50 L666.62 114.80 L667.14 115.10 L667.65 115.40 L668.15 115.70 L668.65 116.00 L669.14 116.30 L669.62 116.59 L670.09 116.89 L670.56 117.19 L671.00 117.49 L671.44 117.79 L671.86 118.09 L672.25 118.39 L672.43 118.69 L672.49 118.99 L672.54 119.28 L672.60 119.58 L672.65 119.88 L672.71 120.18 L672.76 120.48 L672.82 120.78 L672.82 120.78 L672.87 120.48 L672.93 120.18 L672.98 119.88 L673.04 119.58 L673.09 119.28 L673.15 118.99 L673.20 118.69 L673.39 118.39 L673.78 118.09 L674.20 117.79 L674.64 117.49 L675.08 117.19 L675.55 116.89 L676.02 116.59 L676.50 116.30 L676.99 116.00 L677.49 115.70 L677.99 115.40 L678.50 115.10 L679.02 114.80 L678.50 114.50 L677.99 114.20 L677.49 113.90 L676.99 113.60 L676.50 113.30 L676.02 113.01 L675.55 112.71 L675.08 112.41 L674.64 112.11 L674.20 111.81 L673.78 111.51 L673.39 111.21 L673.20 110.91 L673.15 110.61 L673.09 110.31 L673.04 110.02 L672.98 109.72 L672.93 109.42 L672.87 109.12 L672.82 108.82 Z" fill="#eda583"/>
<path d="M692.08 116.88 L692.02 117.17 L691.97 117.45 L691.91 117.74 L691.86 118.02 L691.80 118.31 L691.75 118.60 L691.68 118.88 L691.31 119.17 L690.92 119.45 L690.51 119.74 L690.09 120.03 L689.66 120.31 L689.21 120.60 L688.76 120.88 L688.29 121.17 L687.82 121.46 L687.35 121.74 L686.86 122.03 L686.37 122.31 L685.88 122.60 L686.37 122.89 L686.86 123.17 L687.35 123.46 L687.82 123.74 L688.29 124.03 L688.76 124.32 L689.21 124.60 L689.66 124.89 L690.09 125.17 L690.51 125.46 L690.92 125.75 L691.31 126.03 L691.68 126.32 L691.75 126.60 L691.80 126.89 L691.86 127.18 L691.91 127.46 L691.97 127.75 L692.02 128.03 L692.08 128.32 L692.08 128.32 L692.13 128.03 L692.19 127.75 L692.24 127.46 L692.30 127.18 L692.35 126.89 L692.41 126.60 L692.48 126.32 L692.85 126.03 L693.24 125.75 L693.65 125.46 L694.07 125.17 L694.50 124.89 L694.95 124.60 L695.40 124.32 L695.87 124.03 L696.34 123.74 L696.81 123.46 L697.30 123.17 L697.79 122.89 L698.28 122.60 L697.79 122.31 L697.30 122.03 L696.81 121.74 L696.34 121.46 L695.87 121.17 L695.40 120.88 L694.95 120.60 L694.50 120.31 L694.07 120.03 L693.65 119.74 L693.24 119.45 L692.85 119.17 L692.48 118.88 L692.41 118.60 L692.35 118.31 L692.30 118.02 L692.24 117.74 L692.19 117.45 L692.13 117.17 L692.08 116.88 Z" fill="#eda583"/>
<path d="M711.34 120.74 L711.28 121.01 L711.23 121.29 L711.17 121.56 L711.12 121.83 L711.06 122.11 L711.01 122.38 L710.72 122.65 L710.36 122.92 L709.98 123.20 L709.58 123.47 L709.17 123.74 L708.76 124.02 L708.33 124.29 L707.89 124.56 L707.45 124.84 L707.00 125.11 L706.54 125.38 L706.08 125.65 L705.61 125.93 L705.14 126.20 L705.61 126.47 L706.08 126.75 L706.54 127.02 L707.00 127.29 L707.45 127.56 L707.89 127.84 L708.33 128.11 L708.76 128.38 L709.17 128.66 L709.58 128.93 L709.98 129.20 L710.36 129.48 L710.72 129.75 L711.01 130.02 L711.06 130.30 L711.12 130.57 L711.17 130.84 L711.23 131.11 L711.28 131.39 L711.34 131.66 L711.34 131.66 L711.39 131.39 L711.45 131.11 L711.50 130.84 L711.56 130.57 L711.61 130.30 L711.67 130.02 L711.96 129.75 L712.32 129.48 L712.70 129.20 L713.10 128.93 L713.51 128.66 L713.92 128.38 L714.35 128.11 L714.79 127.84 L715.23 127.56 L715.68 127.29 L716.14 127.02 L716.60 126.75 L717.07 126.47 L717.54 126.20 L717.07 125.93 L716.60 125.65 L716.14 125.38 L715.68 125.11 L715.23 124.84 L714.79 124.56 L714.35 124.29 L713.92 124.02 L713.51 123.74 L713.10 123.47 L712.70 123.20 L712.32 122.92 L711.96 122.65 L711.67 122.38 L711.61 122.11 L711.56 121.83 L711.50 121.56 L711.45 121.29 L711.39 121.01 L711.34 120.74 Z" fill="#eda583"/>
<path d="M730.60 123.74 L730.54 124.01 L730.49 124.29 L730.43 124.56 L730.38 124.83 L730.32 125.10 L730.27 125.38 L729.98 125.65 L729.62 125.92 L729.24 126.20 L728.84 126.47 L728.43 126.74 L728.02 127.02 L727.59 127.29 L727.15 127.56 L726.71 127.83 L726.26 128.11 L725.80 128.38 L725.34 128.65 L724.87 128.93 L724.40 129.20 L724.87 129.47 L725.34 129.75 L725.80 130.02 L726.26 130.29 L726.71 130.56 L727.15 130.84 L727.59 131.11 L728.02 131.38 L728.43 131.66 L728.84 131.93 L729.24 132.20 L729.62 132.48 L729.98 132.75 L730.27 133.02 L730.32 133.29 L730.38 133.57 L730.43 133.84 L730.49 134.11 L730.54 134.39 L730.60 134.66 L730.60 134.66 L730.65 134.39 L730.71 134.11 L730.76 133.84 L730.82 133.57 L730.87 133.29 L730.93 133.02 L731.22 132.75 L731.58 132.48 L731.96 132.20 L732.36 131.93 L732.77 131.66 L733.18 131.38 L733.61 131.11 L734.05 130.84 L734.49 130.56 L734.94 130.29 L735.40 130.02 L735.86 129.75 L736.33 129.47 L736.80 129.20 L736.33 128.93 L735.86 128.65 L735.40 128.38 L734.94 128.11 L734.49 127.83 L734.05 127.56 L733.61 127.29 L733.18 127.02 L732.77 126.74 L732.36 126.47 L731.96 126.20 L731.58 125.92 L731.22 125.65 L730.93 125.38 L730.87 125.10 L730.82 124.83 L730.76 124.56 L730.71 124.29 L730.65 124.01 L730.60 123.74 Z" fill="#eda583"/>
<path d="M749.86 126.03 L749.80 126.28 L749.75 126.54 L749.69 126.79 L749.64 127.04 L749.56 127.30 L749.24 127.55 L748.91 127.80 L748.55 128.06 L748.19 128.31 L747.81 128.56 L747.43 128.82 L747.03 129.07 L746.63 129.33 L746.22 129.58 L745.81 129.83 L745.39 130.09 L744.96 130.34 L744.53 130.59 L744.10 130.85 L743.66 131.10 L744.10 131.35 L744.53 131.61 L744.96 131.86 L745.39 132.11 L745.81 132.37 L746.22 132.62 L746.63 132.87 L747.03 133.13 L747.43 133.38 L747.81 133.63 L748.19 133.89 L748.55 134.14 L748.91 134.40 L749.24 134.65 L749.56 134.90 L749.64 135.16 L749.69 135.41 L749.75 135.66 L749.80 135.92 L749.86 136.17 L749.86 136.17 L749.91 135.92 L749.97 135.66 L750.02 135.41 L750.08 135.16 L750.16 134.90 L750.48 134.65 L750.81 134.40 L751.17 134.14 L751.53 133.89 L751.91 133.63 L752.29 133.38 L752.69 133.13 L753.09 132.87 L753.50 132.62 L753.91 132.37 L754.33 132.11 L754.76 131.86 L755.19 131.61 L755.62 131.35 L756.06 131.10 L755.62 130.85 L755.19 130.59 L754.76 130.34 L754.33 130.09 L753.91 129.83 L753.50 129.58 L753.09 129.33 L752.69 129.07 L752.29 128.82 L751.91 128.56 L751.53 128.31 L751.17 128.06 L750.81 127.80 L750.48 127.55 L750.16 127.30 L750.08 127.04 L750.02 126.79 L749.97 126.54 L749.91 126.28 L749.86 126.03 Z" fill="#eda583"/>
<path d="M769.12 127.99 L769.07 128.23 L769.01 128.47 L768.96 128.71 L768.87 128.95 L768.58 129.19 L768.26 129.43 L767.93 129.67 L767.59 129.91 L767.24 130.15 L766.87 130.40 L766.50 130.64 L766.13 130.88 L765.74 131.12 L765.36 131.36 L764.96 131.60 L764.56 131.84 L764.16 132.08 L763.75 132.32 L763.34 132.56 L762.92 132.80 L763.34 133.04 L763.75 133.28 L764.16 133.52 L764.56 133.76 L764.96 134.00 L765.36 134.24 L765.74 134.48 L766.13 134.72 L766.50 134.96 L766.87 135.21 L767.24 135.45 L767.59 135.69 L767.93 135.93 L768.26 136.17 L768.58 136.41 L768.87 136.65 L768.96 136.89 L769.01 137.13 L769.07 137.37 L769.12 137.61 L769.12 137.61 L769.17 137.37 L769.23 137.13 L769.28 136.89 L769.37 136.65 L769.66 136.41 L769.98 136.17 L770.31 135.93 L770.65 135.69 L771.00 135.45 L771.37 135.21 L771.74 134.96 L772.11 134.72 L772.50 134.48 L772.88 134.24 L773.28 134.00 L773.68 133.76 L774.08 133.52 L774.49 133.28 L774.90 133.04 L775.32 132.80 L774.90 132.56 L774.49 132.32 L774.08 132.08 L773.68 131.84 L773.28 131.60 L772.88 131.36 L772.50 131.12 L772.11 130.88 L771.74 130.64 L771.37 130.40 L771.00 130.15 L770.65 129.91 L770.31 129.67 L769.98 129.43 L769.66 129.19 L769.37 128.95 L769.28 128.71 L769.23 128.47 L769.17 128.23 L769.12 127.99 Z" fill="#eda583"/>
<path d="M788.38 129.88 L788.33 130.10 L788.27 130.32 L788.02 130.54 L787.75 130.76 L787.45 130.99 L787.15 131.21 L786.83 131.43 L786.51 131.65 L786.17 131.87 L785.84 132.09 L785.49 132.31 L785.14 132.53 L784.78 132.75 L784.42 132.97 L784.06 133.20 L783.69 133.42 L783.32 133.64 L782.94 133.86 L782.56 134.08 L782.18 134.30 L782.56 134.52 L782.94 134.74 L783.32 134.96 L783.69 135.18 L784.06 135.41 L784.42 135.63 L784.78 135.85 L785.14 136.07 L785.49 136.29 L785.84 136.51 L786.17 136.73 L786.51 136.95 L786.83 137.17 L787.15 137.39 L787.45 137.62 L787.75 137.84 L788.02 138.06 L788.27 138.28 L788.33 138.50 L788.38 138.72 L788.38 138.72 L788.43 138.50 L788.49 138.28 L788.74 138.06 L789.01 137.84 L789.31 137.62 L789.61 137.39 L789.93 137.17 L790.25 136.95 L790.59 136.73 L790.92 136.51 L791.27 136.29 L791.62 136.07 L791.98 135.85 L792.34 135.63 L792.70 135.41 L793.07 135.18 L793.44 134.96 L793.82 134.74 L794.20 134.52 L794.58 134.30 L794.20 134.08 L793.82 133.86 L793.44 133.64 L793.07 133.42 L792.70 133.20 L792.34 132.97 L791.98 132.75 L791.62 132.53 L791.27 132.31 L790.92 132.09 L790.59 131.87 L790.25 131.65 L789.93 131.43 L789.61 131.21 L789.31 130.99 L789.01 130.76 L788.74 130.54 L788.49 130.32 L788.43 130.10 L788.38 129.88 Z" fill="#eda583"/>
<circle cx="634.3" cy="53.6" r="2.7" fill="#5386ab"/>
<circle cx="653.6" cy="89.6" r="2.7" fill="#5386ab"/>
<circle cx="672.8" cy="108.6" r="2.7" fill="#5386ab"/>
<circle cx="692.1" cy="118.8" r="2.7" fill="#5386ab"/>
<circle cx="711.3" cy="125.6" r="2.7" fill="#5386ab"/>
<circle cx="730.6" cy="128.9" r="2.7" fill="#5386ab"/>
<circle cx="749.9" cy="130.9" r="2.7" fill="#5386ab"/>
<circle cx="769.1" cy="132.7" r="2.7" fill="#5386ab"/>
<circle cx="788.4" cy="134.2" r="2.7" fill="#5386ab"/>
<circle cx="634.3" cy="67.3" r="2.8" fill="#c07e66"/>
<circle cx="653.6" cy="102.3" r="2.8" fill="#c07e66"/>
<circle cx="672.8" cy="114.8" r="2.8" fill="#c07e66"/>
<circle cx="692.1" cy="122.6" r="2.8" fill="#c07e66"/>
<circle cx="711.3" cy="126.2" r="2.8" fill="#c07e66"/>
<circle cx="730.6" cy="129.2" r="2.8" fill="#c07e66"/>
<circle cx="749.9" cy="131.1" r="2.8" fill="#c07e66"/>
<circle cx="769.1" cy="132.8" r="2.8" fill="#c07e66"/>
<circle cx="788.4" cy="134.3" r="2.8" fill="#c07e66"/>
<rect x="615.0" y="14.8" width="192.39999999999998" height="131.0" fill="none" stroke="#454545" stroke-width="1.3"/>
<line x1="634.3" y1="14.8" x2="634.3" y2="17.3" stroke="#454545" stroke-width="0.8"/>
<line x1="634.3" y1="145.8" x2="634.3" y2="143.3" stroke="#454545" stroke-width="0.8"/>
<line x1="653.6" y1="14.8" x2="653.6" y2="17.3" stroke="#454545" stroke-width="0.8"/>
<line x1="653.6" y1="145.8" x2="653.6" y2="143.3" stroke="#454545" stroke-width="0.8"/>
<line x1="672.8" y1="14.8" x2="672.8" y2="17.3" stroke="#454545" stroke-width="0.8"/>
<line x1="672.8" y1="145.8" x2="672.8" y2="143.3" stroke="#454545" stroke-width="0.8"/>
<line x1="692.1" y1="14.8" x2="692.1" y2="17.3" stroke="#454545" stroke-width="0.8"/>
<line x1="692.1" y1="145.8" x2="692.1" y2="143.3" stroke="#454545" stroke-width="0.8"/>
<line x1="711.3" y1="14.8" x2="711.3" y2="17.3" stroke="#454545" stroke-width="0.8"/>
<line x1="711.3" y1="145.8" x2="711.3" y2="143.3" stroke="#454545" stroke-width="0.8"/>
<line x1="730.6" y1="14.8" x2="730.6" y2="17.3" stroke="#454545" stroke-width="0.8"/>
<line x1="730.6" y1="145.8" x2="730.6" y2="143.3" stroke="#454545" stroke-width="0.8"/>
<line x1="749.9" y1="14.8" x2="749.9" y2="17.3" stroke="#454545" stroke-width="0.8"/>
<line x1="749.9" y1="145.8" x2="749.9" y2="143.3" stroke="#454545" stroke-width="0.8"/>
<line x1="769.1" y1="14.8" x2="769.1" y2="17.3" stroke="#454545" stroke-width="0.8"/>
<line x1="769.1" y1="145.8" x2="769.1" y2="143.3" stroke="#454545" stroke-width="0.8"/>
<line x1="788.4" y1="14.8" x2="788.4" y2="17.3" stroke="#454545" stroke-width="0.8"/>
<line x1="788.4" y1="145.8" x2="788.4" y2="143.3" stroke="#454545" stroke-width="0.8"/>
<text x="611.0" y="150.2" text-anchor="end" font-family='"Liberation Serif", serif' font-size="10" fill="#222">0</text>
<line x1="615.0" y1="102.9" x2="617.5" y2="102.9" stroke="#454545" stroke-width="0.8"/>
<line x1="807.4" y1="102.9" x2="804.9" y2="102.9" stroke="#454545" stroke-width="0.8"/>
<text x="611.0" y="106.1" text-anchor="end" font-family='"Liberation Serif", serif' font-size="10" fill="#222">200</text>
<line x1="615.0" y1="58.8" x2="617.5" y2="58.8" stroke="#454545" stroke-width="0.8"/>
<line x1="807.4" y1="58.8" x2="804.9" y2="58.8" stroke="#454545" stroke-width="0.8"/>
<text x="611.0" y="62.0" text-anchor="end" font-family='"Liberation Serif", serif' font-size="10" fill="#222">400</text>
<text x="611.0" y="17.9" text-anchor="end" font-family='"Liberation Serif", serif' font-size="10" fill="#222">600</text>
<text x="728.4" y="74.6" font-family='"Liberation Sans", sans-serif' font-size="11.6" fill="#6fadde" textLength="69.8" lengthAdjust="spacing">200 fs relax.</text>
<text x="741.6" y="89.4" font-family='"Liberation Sans", sans-serif' font-size="11.6" fill="#eda583" textLength="58.6" lengthAdjust="spacing">2 ps relax.</text>
<g transform="translate(583.3,107.6) rotate(-90)">
<text x="1.2" y="0" font-family='"Liberation Serif", serif' font-size="15" fill="#222" font-style="italic">l</text>
<text x="8.6" y="4.3" font-family='"Liberation Serif", serif' font-size="10" fill="#222" textLength="15.6" lengthAdjust="spacing">diff</text>
<line x1="26.4" y1="4.8" x2="32.5" y2="-7.9" stroke="#222" stroke-width="0.85"/>
<text x="38.6" y="0" font-family='"Liberation Serif", serif' font-size="12.2" fill="#222" textLength="15.6" lengthAdjust="spacing">nm</text>
</g>
<rect x="615.0" y="150.2" width="192.39999999999998" height="76.20000000000002" fill="none" stroke="#454545" stroke-width="1.3"/>
<line x1="634.3" y1="150.2" x2="634.3" y2="152.7" stroke="#454545" stroke-width="0.8"/>
<line x1="634.3" y1="226.4" x2="634.3" y2="223.9" stroke="#454545" stroke-width="0.8"/>
<line x1="653.6" y1="150.2" x2="653.6" y2="152.7" stroke="#454545" stroke-width="0.8"/>
<line x1="653.6" y1="226.4" x2="653.6" y2="223.9" stroke="#454545" stroke-width="0.8"/>
<line x1="672.8" y1="150.2" x2="672.8" y2="152.7" stroke="#454545" stroke-width="0.8"/>
<line x1="672.8" y1="226.4" x2="672.8" y2="223.9" stroke="#454545" stroke-width="0.8"/>
<line x1="692.1" y1="150.2" x2="692.1" y2="152.7" stroke="#454545" stroke-width="0.8"/>
<line x1="692.1" y1="226.4" x2="692.1" y2="223.9" stroke="#454545" stroke-width="0.8"/>
<line x1="711.3" y1="150.2" x2="711.3" y2="152.7" stroke="#454545" stroke-width="0.8"/>
<line x1="711.3" y1="226.4" x2="711.3" y2="223.9" stroke="#454545" stroke-width="0.8"/>
<line x1="730.6" y1="150.2" x2="730.6" y2="152.7" stroke="#454545" stroke-width="0.8"/>
<line x1="730.6" y1="226.4" x2="730.6" y2="223.9" stroke="#454545" stroke-width="0.8"/>
<line x1="749.9" y1="150.2" x2="749.9" y2="152.7" stroke="#454545" stroke-width="0.8"/>
<line x1="749.9" y1="226.4" x2="749.9" y2="223.9" stroke="#454545" stroke-width="0.8"/>
<line x1="769.1" y1="150.2" x2="769.1" y2="152.7" stroke="#454545" stroke-width="0.8"/>
<line x1="769.1" y1="226.4" x2="769.1" y2="223.9" stroke="#454545" stroke-width="0.8"/>
<line x1="788.4" y1="150.2" x2="788.4" y2="152.7" stroke="#454545" stroke-width="0.8"/>
<line x1="788.4" y1="226.4" x2="788.4" y2="223.9" stroke="#454545" stroke-width="0.8"/>
<line x1="615.0" y1="225.0" x2="617.5" y2="225.0" stroke="#454545" stroke-width="0.8"/>
<line x1="807.4" y1="225.0" x2="804.9" y2="225.0" stroke="#454545" stroke-width="0.8"/>
<text x="611.0" y="227.6" text-anchor="end" font-family='"Liberation Serif", serif' font-size="8.5" fill="#222">1</text>
<line x1="615.0" y1="199.8" x2="617.5" y2="199.8" stroke="#454545" stroke-width="0.8"/>
<line x1="807.4" y1="199.8" x2="804.9" y2="199.8" stroke="#454545" stroke-width="0.8"/>
<text x="611.0" y="202.4" text-anchor="end" font-family='"Liberation Serif", serif' font-size="8.5" fill="#222">1.1</text>
<line x1="615.0" y1="174.6" x2="617.5" y2="174.6" stroke="#454545" stroke-width="0.8"/>
<line x1="807.4" y1="174.6" x2="804.9" y2="174.6" stroke="#454545" stroke-width="0.8"/>
<text x="611.0" y="177.2" text-anchor="end" font-family='"Liberation Serif", serif' font-size="8.5" fill="#222">1.2</text>
<ellipse cx="634.3" cy="167.8" rx="6.3" ry="1.2" fill="#6fadde"/>
<circle cx="634.3" cy="167.8" r="3.75" fill="#6fadde"/>
<circle cx="634.3" cy="167.8" r="3.0" fill="#5386ab"/>
<ellipse cx="653.6" cy="196.3" rx="6.3" ry="1.2" fill="#6fadde"/>
<circle cx="653.6" cy="196.3" r="3.75" fill="#6fadde"/>
<circle cx="653.6" cy="196.3" r="3.0" fill="#5386ab"/>
<ellipse cx="672.8" cy="214.4" rx="6.3" ry="1.2" fill="#6fadde"/>
<circle cx="672.8" cy="214.4" r="3.75" fill="#6fadde"/>
<circle cx="672.8" cy="214.4" r="3.0" fill="#5386ab"/>
<ellipse cx="692.1" cy="221.0" rx="6.3" ry="1.2" fill="#6fadde"/>
<circle cx="692.1" cy="221.0" r="3.75" fill="#6fadde"/>
<circle cx="692.1" cy="221.0" r="3.0" fill="#5386ab"/>
<ellipse cx="711.3" cy="223.2" rx="6.3" ry="1.2" fill="#6fadde"/>
<circle cx="711.3" cy="223.2" r="3.75" fill="#6fadde"/>
<circle cx="711.3" cy="223.2" r="3.0" fill="#5386ab"/>
<ellipse cx="730.6" cy="224.2" rx="6.3" ry="1.2" fill="#6fadde"/>
<circle cx="730.6" cy="224.2" r="3.75" fill="#6fadde"/>
<circle cx="730.6" cy="224.2" r="3.0" fill="#5386ab"/>
<ellipse cx="749.9" cy="224.6" rx="6.3" ry="1.2" fill="#6fadde"/>
<circle cx="749.9" cy="224.6" r="3.75" fill="#6fadde"/>
<circle cx="749.9" cy="224.6" r="3.0" fill="#5386ab"/>
<ellipse cx="769.1" cy="224.7" rx="6.3" ry="1.2" fill="#6fadde"/>
<circle cx="769.1" cy="224.7" r="3.75" fill="#6fadde"/>
<circle cx="769.1" cy="224.7" r="3.0" fill="#5386ab"/>
<ellipse cx="788.4" cy="224.9" rx="6.3" ry="1.2" fill="#6fadde"/>
<circle cx="788.4" cy="224.9" r="3.75" fill="#6fadde"/>
<circle cx="788.4" cy="224.9" r="3.0" fill="#5386ab"/>
<ellipse cx="634.3" cy="150.7" rx="6.3" ry="1.2" fill="#eda583"/>
<circle cx="634.3" cy="150.7" r="3.75" fill="#eda583"/>
<circle cx="634.3" cy="150.7" r="3.0" fill="#c07e66"/>
<ellipse cx="653.6" cy="163.0" rx="6.3" ry="1.2" fill="#eda583"/>
<circle cx="653.6" cy="163.0" r="3.75" fill="#eda583"/>
<circle cx="653.6" cy="163.0" r="3.0" fill="#c07e66"/>
<ellipse cx="672.8" cy="182.9" rx="6.3" ry="1.2" fill="#eda583"/>
<circle cx="672.8" cy="182.9" r="3.75" fill="#eda583"/>
<circle cx="672.8" cy="182.9" r="3.0" fill="#c07e66"/>
<ellipse cx="692.1" cy="201.3" rx="6.3" ry="1.2" fill="#eda583"/>
<circle cx="692.1" cy="201.3" r="3.75" fill="#eda583"/>
<circle cx="692.1" cy="201.3" r="3.0" fill="#c07e66"/>
<ellipse cx="711.3" cy="212.7" rx="6.3" ry="1.2" fill="#eda583"/>
<circle cx="711.3" cy="212.7" r="3.75" fill="#eda583"/>
<circle cx="711.3" cy="212.7" r="3.0" fill="#c07e66"/>
<ellipse cx="730.6" cy="217.4" rx="6.3" ry="1.2" fill="#eda583"/>
<circle cx="730.6" cy="217.4" r="3.75" fill="#eda583"/>
<circle cx="730.6" cy="217.4" r="3.0" fill="#c07e66"/>
<ellipse cx="749.9" cy="220.7" rx="6.3" ry="1.2" fill="#eda583"/>
<circle cx="749.9" cy="220.7" r="3.75" fill="#eda583"/>
<circle cx="749.9" cy="220.7" r="3.0" fill="#c07e66"/>
<ellipse cx="769.1" cy="222.2" rx="6.3" ry="1.2" fill="#eda583"/>
<circle cx="769.1" cy="222.2" r="3.75" fill="#eda583"/>
<circle cx="769.1" cy="222.2" r="3.0" fill="#c07e66"/>
<ellipse cx="788.4" cy="223.0" rx="6.3" ry="1.2" fill="#eda583"/>
<circle cx="788.4" cy="223.0" r="3.75" fill="#eda583"/>
<circle cx="788.4" cy="223.0" r="3.0" fill="#c07e66"/>
<g transform="translate(587,214.6) rotate(-90)">
<text x="0" y="0" font-family='"Liberation Serif", serif' font-size="13.5" fill="#222">Γ</text>
<line x1="0.2" y1="-11.8" x2="8.4" y2="-11.8" stroke="#222" stroke-width="0.8"/>
<line x1="14.5" y1="2" x2="24.3" y2="-11.5" stroke="#222" stroke-width="0.85"/>
<text x="26.6" y="0" font-family='"Liberation Serif", serif' font-size="13.5" fill="#222" textLength="11.6" lengthAdjust="spacing">ns</text>
<text x="39.6" y="-5.8" font-family='"Liberation Serif", serif' font-size="10" fill="#222" textLength="11.4" lengthAdjust="spacing">−1</text>
</g>
<ellipse cx="634.3" cy="241.7" rx="6.3" ry="1.2" fill="#6fadde"/>
<circle cx="634.3" cy="241.7" r="3.75" fill="#6fadde"/>
<circle cx="634.3" cy="241.7" r="3.0" fill="#6fadde"/>
<ellipse cx="653.6" cy="256.2" rx="6.3" ry="1.2" fill="#6fadde"/>
<circle cx="653.6" cy="256.2" r="3.75" fill="#6fadde"/>
<circle cx="653.6" cy="256.2" r="3.0" fill="#6fadde"/>
<ellipse cx="672.8" cy="266.5" rx="6.3" ry="1.2" fill="#6fadde"/>
<circle cx="672.8" cy="266.5" r="3.75" fill="#6fadde"/>
<circle cx="672.8" cy="266.5" r="3.0" fill="#6fadde"/>
<ellipse cx="692.1" cy="274.7" rx="6.3" ry="1.2" fill="#6fadde"/>
<circle cx="692.1" cy="274.7" r="3.75" fill="#6fadde"/>
<circle cx="692.1" cy="274.7" r="3.0" fill="#6fadde"/>
<ellipse cx="711.3" cy="280.3" rx="6.3" ry="1.2" fill="#6fadde"/>
<circle cx="711.3" cy="280.3" r="3.75" fill="#6fadde"/>
<circle cx="711.3" cy="280.3" r="3.0" fill="#6fadde"/>
<ellipse cx="730.6" cy="285.3" rx="6.3" ry="1.2" fill="#6fadde"/>
<circle cx="730.6" cy="285.3" r="3.75" fill="#6fadde"/>
<circle cx="730.6" cy="285.3" r="3.0" fill="#6fadde"/>
<ellipse cx="749.9" cy="289.2" rx="6.3" ry="1.2" fill="#6fadde"/>
<circle cx="749.9" cy="289.2" r="3.75" fill="#6fadde"/>
<circle cx="749.9" cy="289.2" r="3.0" fill="#6fadde"/>
<ellipse cx="769.1" cy="292.7" rx="6.3" ry="1.2" fill="#6fadde"/>
<circle cx="769.1" cy="292.7" r="3.75" fill="#6fadde"/>
<circle cx="769.1" cy="292.7" r="3.0" fill="#6fadde"/>
<ellipse cx="788.4" cy="295.5" rx="6.3" ry="1.2" fill="#6fadde"/>
<circle cx="788.4" cy="295.5" r="3.75" fill="#6fadde"/>
<circle cx="788.4" cy="295.5" r="3.0" fill="#6fadde"/>
<ellipse cx="634.3" cy="240.2" rx="6.3" ry="1.2" fill="#eda583"/>
<circle cx="634.3" cy="240.2" r="3.75" fill="#eda583"/>
<circle cx="634.3" cy="240.2" r="3.0" fill="#c07e66"/>
<ellipse cx="653.6" cy="254.7" rx="6.3" ry="1.2" fill="#eda583"/>
<circle cx="653.6" cy="254.7" r="3.75" fill="#eda583"/>
<circle cx="653.6" cy="254.7" r="3.0" fill="#c07e66"/>
<ellipse cx="672.8" cy="265.0" rx="6.3" ry="1.2" fill="#eda583"/>
<circle cx="672.8" cy="265.0" r="3.75" fill="#eda583"/>
<circle cx="672.8" cy="265.0" r="3.0" fill="#c07e66"/>
<ellipse cx="692.1" cy="273.2" rx="6.3" ry="1.2" fill="#eda583"/>
<circle cx="692.1" cy="273.2" r="3.75" fill="#eda583"/>
<circle cx="692.1" cy="273.2" r="3.0" fill="#c07e66"/>
<ellipse cx="711.3" cy="278.8" rx="6.3" ry="1.2" fill="#eda583"/>
<circle cx="711.3" cy="278.8" r="3.75" fill="#eda583"/>
<circle cx="711.3" cy="278.8" r="3.0" fill="#c07e66"/>
<ellipse cx="730.6" cy="283.8" rx="6.3" ry="1.2" fill="#eda583"/>
<circle cx="730.6" cy="283.8" r="3.75" fill="#eda583"/>
<circle cx="730.6" cy="283.8" r="3.0" fill="#c07e66"/>
<ellipse cx="749.9" cy="287.7" rx="6.3" ry="1.2" fill="#eda583"/>
<circle cx="749.9" cy="287.7" r="3.75" fill="#eda583"/>
<circle cx="749.9" cy="287.7" r="3.0" fill="#c07e66"/>
<ellipse cx="769.1" cy="291.2" rx="6.3" ry="1.2" fill="#eda583"/>
<circle cx="769.1" cy="291.2" r="3.75" fill="#eda583"/>
<circle cx="769.1" cy="291.2" r="3.0" fill="#c07e66"/>
<ellipse cx="788.4" cy="294.0" rx="6.3" ry="1.2" fill="#eda583"/>
<circle cx="788.4" cy="294.0" r="3.75" fill="#eda583"/>
<circle cx="788.4" cy="294.0" r="3.0" fill="#c07e66"/>
<rect x="615.0" y="231.2" width="192.39999999999998" height="76.30000000000001" fill="none" stroke="#303030" stroke-width="1.1"/>
<line x1="634.3" y1="231.2" x2="634.3" y2="233.7" stroke="#303030" stroke-width="0.8"/>
<line x1="634.3" y1="307.5" x2="634.3" y2="305.0" stroke="#303030" stroke-width="0.8"/>
<line x1="653.6" y1="231.2" x2="653.6" y2="233.7" stroke="#303030" stroke-width="0.8"/>
<line x1="653.6" y1="307.5" x2="653.6" y2="305.0" stroke="#303030" stroke-width="0.8"/>
<line x1="672.8" y1="231.2" x2="672.8" y2="233.7" stroke="#303030" stroke-width="0.8"/>
<line x1="672.8" y1="307.5" x2="672.8" y2="305.0" stroke="#303030" stroke-width="0.8"/>
<line x1="692.1" y1="231.2" x2="692.1" y2="233.7" stroke="#303030" stroke-width="0.8"/>
<line x1="692.1" y1="307.5" x2="692.1" y2="305.0" stroke="#303030" stroke-width="0.8"/>
<line x1="711.3" y1="231.2" x2="711.3" y2="233.7" stroke="#303030" stroke-width="0.8"/>
<line x1="711.3" y1="307.5" x2="711.3" y2="305.0" stroke="#303030" stroke-width="0.8"/>
<line x1="730.6" y1="231.2" x2="730.6" y2="233.7" stroke="#303030" stroke-width="0.8"/>
<line x1="730.6" y1="307.5" x2="730.6" y2="305.0" stroke="#303030" stroke-width="0.8"/>
<line x1="749.9" y1="231.2" x2="749.9" y2="233.7" stroke="#303030" stroke-width="0.8"/>
<line x1="749.9" y1="307.5" x2="749.9" y2="305.0" stroke="#303030" stroke-width="0.8"/>
<line x1="769.1" y1="231.2" x2="769.1" y2="233.7" stroke="#303030" stroke-width="0.8"/>
<line x1="769.1" y1="307.5" x2="769.1" y2="305.0" stroke="#303030" stroke-width="0.8"/>
<line x1="788.4" y1="231.2" x2="788.4" y2="233.7" stroke="#303030" stroke-width="0.8"/>
<line x1="788.4" y1="307.5" x2="788.4" y2="305.0" stroke="#303030" stroke-width="0.8"/>
<line x1="615.0" y1="306.10" x2="618.0" y2="306.10" stroke="#303030" stroke-width="0.7"/>
<line x1="807.4" y1="306.10" x2="804.4" y2="306.10" stroke="#303030" stroke-width="0.7"/>
<line x1="615.0" y1="300.44" x2="616.9" y2="300.44" stroke="#303030" stroke-width="0.7"/>
<line x1="807.4" y1="300.44" x2="805.5" y2="300.44" stroke="#303030" stroke-width="0.7"/>
<line x1="615.0" y1="297.13" x2="616.9" y2="297.13" stroke="#303030" stroke-width="0.7"/>
<line x1="807.4" y1="297.13" x2="805.5" y2="297.13" stroke="#303030" stroke-width="0.7"/>
<line x1="615.0" y1="294.78" x2="616.9" y2="294.78" stroke="#303030" stroke-width="0.7"/>
<line x1="807.4" y1="294.78" x2="805.5" y2="294.78" stroke="#303030" stroke-width="0.7"/>
<line x1="615.0" y1="292.96" x2="616.9" y2="292.96" stroke="#303030" stroke-width="0.7"/>
<line x1="807.4" y1="292.96" x2="805.5" y2="292.96" stroke="#303030" stroke-width="0.7"/>
<line x1="615.0" y1="291.47" x2="616.9" y2="291.47" stroke="#303030" stroke-width="0.7"/>
<line x1="807.4" y1="291.47" x2="805.5" y2="291.47" stroke="#303030" stroke-width="0.7"/>
<line x1="615.0" y1="290.21" x2="616.9" y2="290.21" stroke="#303030" stroke-width="0.7"/>
<line x1="807.4" y1="290.21" x2="805.5" y2="290.21" stroke="#303030" stroke-width="0.7"/>
<line x1="615.0" y1="289.12" x2="616.9" y2="289.12" stroke="#303030" stroke-width="0.7"/>
<line x1="807.4" y1="289.12" x2="805.5" y2="289.12" stroke="#303030" stroke-width="0.7"/>
<line x1="615.0" y1="288.16" x2="616.9" y2="288.16" stroke="#303030" stroke-width="0.7"/>
<line x1="807.4" y1="288.16" x2="805.5" y2="288.16" stroke="#303030" stroke-width="0.7"/>
<line x1="615.0" y1="287.30" x2="618.0" y2="287.30" stroke="#303030" stroke-width="0.7"/>
<line x1="807.4" y1="287.30" x2="804.4" y2="287.30" stroke="#303030" stroke-width="0.7"/>
<line x1="615.0" y1="281.64" x2="616.9" y2="281.64" stroke="#303030" stroke-width="0.7"/>
<line x1="807.4" y1="281.64" x2="805.5" y2="281.64" stroke="#303030" stroke-width="0.7"/>
<line x1="615.0" y1="278.33" x2="616.9" y2="278.33" stroke="#303030" stroke-width="0.7"/>
<line x1="807.4" y1="278.33" x2="805.5" y2="278.33" stroke="#303030" stroke-width="0.7"/>
<line x1="615.0" y1="275.98" x2="616.9" y2="275.98" stroke="#303030" stroke-width="0.7"/>
<line x1="807.4" y1="275.98" x2="805.5" y2="275.98" stroke="#303030" stroke-width="0.7"/>
<line x1="615.0" y1="274.16" x2="616.9" y2="274.16" stroke="#303030" stroke-width="0.7"/>
<line x1="807.4" y1="274.16" x2="805.5" y2="274.16" stroke="#303030" stroke-width="0.7"/>
<line x1="615.0" y1="272.67" x2="616.9" y2="272.67" stroke="#303030" stroke-width="0.7"/>
<line x1="807.4" y1="272.67" x2="805.5" y2="272.67" stroke="#303030" stroke-width="0.7"/>
<line x1="615.0" y1="271.41" x2="616.9" y2="271.41" stroke="#303030" stroke-width="0.7"/>
<line x1="807.4" y1="271.41" x2="805.5" y2="271.41" stroke="#303030" stroke-width="0.7"/>
<line x1="615.0" y1="270.32" x2="616.9" y2="270.32" stroke="#303030" stroke-width="0.7"/>
<line x1="807.4" y1="270.32" x2="805.5" y2="270.32" stroke="#303030" stroke-width="0.7"/>
<line x1="615.0" y1="269.36" x2="616.9" y2="269.36" stroke="#303030" stroke-width="0.7"/>
<line x1="807.4" y1="269.36" x2="805.5" y2="269.36" stroke="#303030" stroke-width="0.7"/>
<line x1="615.0" y1="268.50" x2="618.0" y2="268.50" stroke="#303030" stroke-width="0.7"/>
<line x1="807.4" y1="268.50" x2="804.4" y2="268.50" stroke="#303030" stroke-width="0.7"/>
<line x1="615.0" y1="262.84" x2="616.9" y2="262.84" stroke="#303030" stroke-width="0.7"/>
<line x1="807.4" y1="262.84" x2="805.5" y2="262.84" stroke="#303030" stroke-width="0.7"/>
<line x1="615.0" y1="259.53" x2="616.9" y2="259.53" stroke="#303030" stroke-width="0.7"/>
<line x1="807.4" y1="259.53" x2="805.5" y2="259.53" stroke="#303030" stroke-width="0.7"/>
<line x1="615.0" y1="257.18" x2="616.9" y2="257.18" stroke="#303030" stroke-width="0.7"/>
<line x1="807.4" y1="257.18" x2="805.5" y2="257.18" stroke="#303030" stroke-width="0.7"/>
<line x1="615.0" y1="255.36" x2="616.9" y2="255.36" stroke="#303030" stroke-width="0.7"/>
<line x1="807.4" y1="255.36" x2="805.5" y2="255.36" stroke="#303030" stroke-width="0.7"/>
<line x1="615.0" y1="253.87" x2="616.9" y2="253.87" stroke="#303030" stroke-width="0.7"/>
<line x1="807.4" y1="253.87" x2="805.5" y2="253.87" stroke="#303030" stroke-width="0.7"/>
<line x1="615.0" y1="252.61" x2="616.9" y2="252.61" stroke="#303030" stroke-width="0.7"/>
<line x1="807.4" y1="252.61" x2="805.5" y2="252.61" stroke="#303030" stroke-width="0.7"/>
<line x1="615.0" y1="251.52" x2="616.9" y2="251.52" stroke="#303030" stroke-width="0.7"/>
<line x1="807.4" y1="251.52" x2="805.5" y2="251.52" stroke="#303030" stroke-width="0.7"/>
<line x1="615.0" y1="250.56" x2="616.9" y2="250.56" stroke="#303030" stroke-width="0.7"/>
<line x1="807.4" y1="250.56" x2="805.5" y2="250.56" stroke="#303030" stroke-width="0.7"/>
<line x1="615.0" y1="249.70" x2="618.0" y2="249.70" stroke="#303030" stroke-width="0.7"/>
<line x1="807.4" y1="249.70" x2="804.4" y2="249.70" stroke="#303030" stroke-width="0.7"/>
<line x1="615.0" y1="244.04" x2="616.9" y2="244.04" stroke="#303030" stroke-width="0.7"/>
<line x1="807.4" y1="244.04" x2="805.5" y2="244.04" stroke="#303030" stroke-width="0.7"/>
<line x1="615.0" y1="240.73" x2="616.9" y2="240.73" stroke="#303030" stroke-width="0.7"/>
<line x1="807.4" y1="240.73" x2="805.5" y2="240.73" stroke="#303030" stroke-width="0.7"/>
<line x1="615.0" y1="238.38" x2="616.9" y2="238.38" stroke="#303030" stroke-width="0.7"/>
<line x1="807.4" y1="238.38" x2="805.5" y2="238.38" stroke="#303030" stroke-width="0.7"/>
<line x1="615.0" y1="236.56" x2="616.9" y2="236.56" stroke="#303030" stroke-width="0.7"/>
<line x1="807.4" y1="236.56" x2="805.5" y2="236.56" stroke="#303030" stroke-width="0.7"/>
<line x1="615.0" y1="235.07" x2="616.9" y2="235.07" stroke="#303030" stroke-width="0.7"/>
<line x1="807.4" y1="235.07" x2="805.5" y2="235.07" stroke="#303030" stroke-width="0.7"/>
<line x1="615.0" y1="233.81" x2="616.9" y2="233.81" stroke="#303030" stroke-width="0.7"/>
<line x1="807.4" y1="233.81" x2="805.5" y2="233.81" stroke="#303030" stroke-width="0.7"/>
<line x1="615.0" y1="232.72" x2="616.9" y2="232.72" stroke="#303030" stroke-width="0.7"/>
<line x1="807.4" y1="232.72" x2="805.5" y2="232.72" stroke="#303030" stroke-width="0.7"/>
<line x1="615.0" y1="231.76" x2="616.9" y2="231.76" stroke="#303030" stroke-width="0.7"/>
<line x1="807.4" y1="231.76" x2="805.5" y2="231.76" stroke="#303030" stroke-width="0.7"/>
<text x="599.7" y="271.3" font-family='"Liberation Serif", serif' font-size="8.3" fill="#222">10</text>
<text x="608.3" y="267.9" font-family='"Liberation Serif", serif' font-size="6.2" fill="#222">0</text>
<text x="594.8" y="308.9" font-family='"Liberation Serif", serif' font-size="8.3" fill="#222">10</text>
<text x="603.4" y="305.5" font-family='"Liberation Serif", serif' font-size="6.2" fill="#222">−2</text>
<g transform="translate(587,295) rotate(-90)">
<text x="0" y="0" font-family='"Liberation Serif", serif' font-size="13.5" fill="#222" textLength="14" lengthAdjust="spacing" font-style="italic">W</text>
<line x1="0.2" y1="-12.3" x2="14.9" y2="-12.3" stroke="#222" stroke-width="0.8"/>
<line x1="18.6" y1="2" x2="28.4" y2="-11.5" stroke="#222" stroke-width="0.85"/>
<text x="30.8" y="0" font-family='"Liberation Serif", serif' font-size="13.5" fill="#222" textLength="11.6" lengthAdjust="spacing">ps</text>
<text x="43.9" y="-5.8" font-family='"Liberation Serif", serif' font-size="10" fill="#222" textLength="11.4" lengthAdjust="spacing">−1</text>
</g>
<text x="634.3" y="320.6" text-anchor="middle" font-family='"Liberation Serif", serif' font-size="10.8" fill="#222">6.5</text>
<text x="672.8" y="320.6" text-anchor="middle" font-family='"Liberation Serif", serif' font-size="10.8" fill="#222">7.0</text>
<text x="711.3" y="320.6" text-anchor="middle" font-family='"Liberation Serif", serif' font-size="10.8" fill="#222">7.5</text>
<text x="749.9" y="320.6" text-anchor="middle" font-family='"Liberation Serif", serif' font-size="10.8" fill="#222">8.0</text>
<text x="788.4" y="320.6" text-anchor="middle" font-family='"Liberation Serif", serif' font-size="10.8" fill="#222">8.5</text>
<text x="685.6" y="339.4" font-family='"Liberation Serif", serif' font-size="14.5" fill="#222" font-style="italic">l</text>
<line x1="696" y1="342.4" x2="704" y2="327.6" stroke="#222" stroke-width="0.9"/>
<text x="708.8" y="339.4" font-family='"Liberation Serif", serif' font-size="13.5" fill="#222" textLength="16.2" lengthAdjust="spacing">nm</text>
</g>
</g>
</svg>
</body></html>
